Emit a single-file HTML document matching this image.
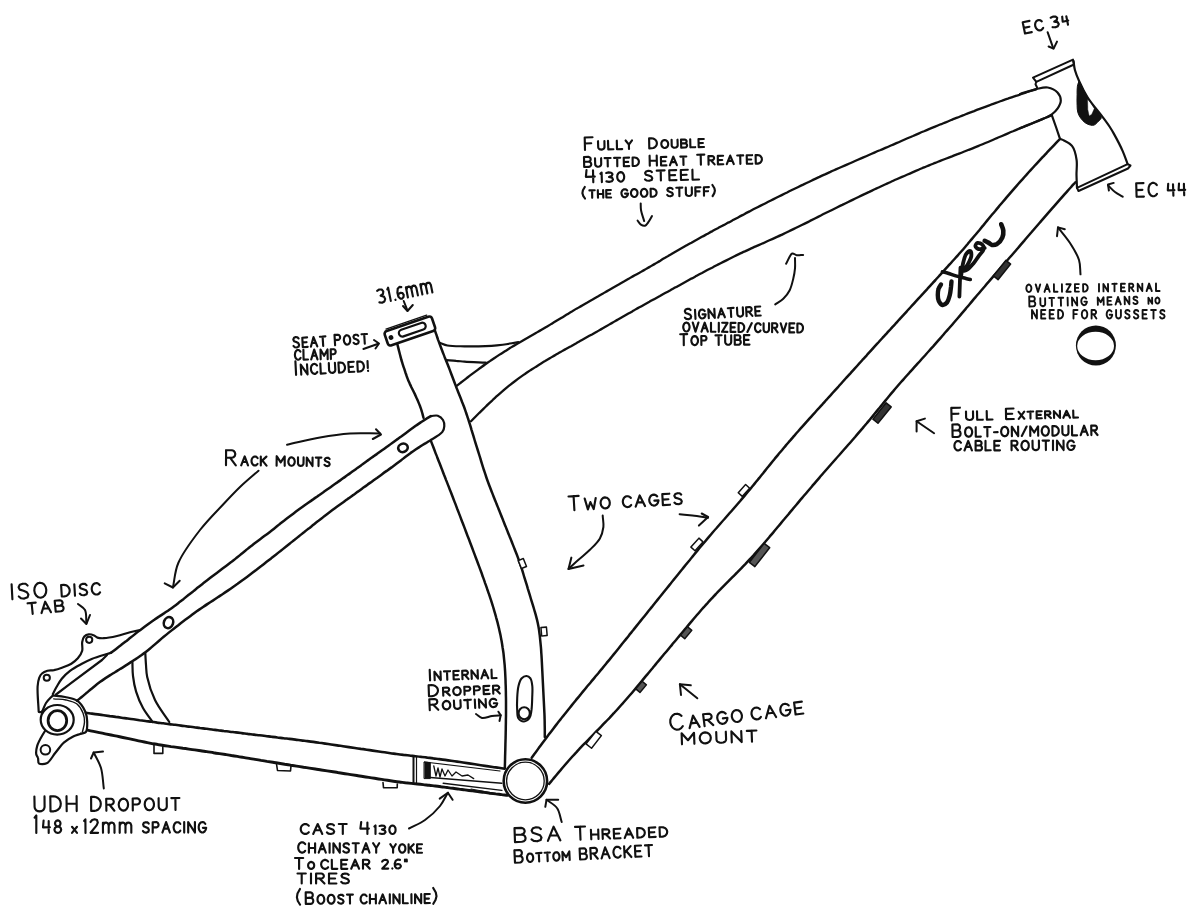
<!DOCTYPE html>
<html><head><meta charset="utf-8"><style>
html,body{margin:0;padding:0;background:#fff;width:1193px;height:920px;overflow:hidden}
svg{display:block}
</style></head><body>
<svg width="1193" height="920" viewBox="0 0 1193 920">
<rect width="1193" height="920" fill="#fff"/>
<g stroke="#111" stroke-linecap="round" stroke-linejoin="round" fill="none">
<path d="M1033,77.7 L1073,59.6 L1074,64.5 L1036.3,81.8 L1033,77.7" stroke-width="2.0" fill="none" />
<path d="M1036.3,81.8 L1035.5,84.2 L1037.1,87.5" stroke-width="2.0" fill="none" />
<path d="M1127.6,164.1 L1130.5,165.5 L1128,168.5 L1078.5,191 L1077,187.8 L1127.6,164.1" stroke-width="2.0" fill="none" />
<path d="M1077,188 C1076.8,183.7 1076.6,179.5 1076.5,175 C1076.4,170.2 1077.3,164.8 1076.6,160 C1075.9,155.2 1074.7,149.5 1072.2,146.2 C1070.2,143.4 1066.3,141.7 1064,140.5 C1062.5,139.7 1061.3,139.4 1060,138.9" stroke-width="2.2" fill="none" />
<path d="M1020,94 C1025.4,92.4 1031.3,90.2 1036.3,89.1 C1040.4,88.2 1044.1,86.9 1047.7,87.5 C1051.2,88.1 1055.3,90 1057.5,92.4 C1059.5,94.5 1060.8,97.8 1060.8,100.5 C1060.8,103.2 1059.1,106.3 1057.5,108.7 C1056,110.9 1054.4,112.6 1051.8,114.4 C1048.1,117 1041.6,119.4 1036.3,121.7 C1031,124 1025.4,126.1 1020,128.3" stroke-width="2.2" fill="none" />
<path d="M1051.8,115.2 L1056,127 L1060,138.9" stroke-width="2.2" fill="none" />
<path d="M1079.2,81.5 C1078.4,81.5 1077.8,84.4 1077.4,86.2 C1076.9,88.6 1077.2,91.7 1077.1,94.7 C1077,98 1076.9,102.1 1077.1,105.3 C1077.2,107.9 1077.2,110.2 1077.8,112.4 C1078.4,114.4 1079.4,116.3 1080.6,118 C1081.9,119.8 1083.7,121.8 1085.5,123 C1087.1,124.1 1089,124.8 1090.5,125.1 C1091.7,125.4 1092.9,125.5 1094,125.1 C1095.4,124.6 1097,122.9 1098.2,121.6 C1099.4,120.3 1101.3,119.2 1101.3,117.5 C1101.3,115 1096.9,111.3 1094.7,108.1 C1092.4,104.7 1089.8,100.9 1087.7,97.5 C1085.8,94.4 1084.2,91.2 1082.7,88.4 C1081.4,86 1080.1,81.5 1079.2,81.5 Z" stroke-width="1.0" fill="#111" />
<path d="M1087.6,99.3 L1087.8,109.5 L1089.2,116 L1091.8,114.2 L1094.3,108.6 L1090,101.5 Z" stroke-width="0.4" fill="#fff" />
<path d="M1073.5,61 C1074,64 1074.1,66.9 1074.9,70 C1075.9,73.6 1077.4,77.3 1079.2,81.3 C1081.4,86.3 1084.2,92.1 1087.7,97.5 C1091.6,103.6 1097.8,110.6 1101.8,115.9 C1104.8,119.9 1107.4,123.3 1109.5,126.5 C1111.2,129.1 1112.2,130.7 1113.8,133.6 C1116.3,138.1 1120.3,145.6 1122.7,151.1 C1124.7,155.7 1126,159.8 1127.6,164.1" stroke-width="2.2" fill="none" />
<path d="M1036.3,89.1 C1034.4,89.7 1032.5,90.4 1030.6,91 C1028.7,91.6 1026.8,92.2 1024.9,92.9 C1023,93.5 1021.1,94.1 1019.2,94.8 C1017.3,95.4 1015.4,96.1 1013.6,96.7 C1011.7,97.4 1009.8,98 1007.9,98.7 C1006,99.3 1004.1,100 1002.2,100.7 C1000.3,101.3 998.5,102 996.6,102.7 C994.7,103.4 992.8,104.1 990.9,104.7 C989.1,105.4 987.2,106.1 985.3,106.8 C983.4,107.5 981.6,108.2 979.7,108.9 C977.8,109.6 976,110.3 974.1,111.1 C972.2,111.8 970.4,112.5 968.5,113.2 C966.6,113.9 964.8,114.7 962.9,115.4 C961,116.1 959.2,116.9 957.3,117.6 C955.5,118.3 953.6,119.1 951.7,119.8 C949.9,120.6 948,121.3 946.2,122.1 C944.3,122.8 942.5,123.6 940.6,124.3 C938.8,125.1 936.9,125.9 935.1,126.6 C933.2,127.4 931.4,128.2 929.5,128.9 C927.7,129.7 925.8,130.5 924,131.3 C922.2,132 920.3,132.8 918.5,133.6 C916.6,134.4 914.8,135.2 913,136 C911.1,136.7 909.3,137.5 907.5,138.3 C905.6,139.1 903.8,139.9 901.9,140.7 C900.1,141.5 898.3,142.3 896.4,143.1 C894.6,143.9 892.8,144.7 890.9,145.5 C889.1,146.3 887.3,147.1 885.4,147.9 C883.6,148.7 881.8,149.5 879.9,150.3 C878.1,151 876.2,151.8 874.4,152.6 C872.6,153.4 870.7,154.2 868.9,155 C867.1,155.8 865.2,156.6 863.4,157.4 C861.5,158.2 859.7,159 857.9,159.8 C856,160.6 854.2,161.4 852.4,162.2 C850.5,163 848.7,163.8 846.9,164.6 C845,165.4 843.2,166.2 841.4,167 C839.5,167.8 837.7,168.6 835.9,169.4 C834.1,170.2 832.2,171 830.4,171.9 C828.6,172.7 826.8,173.5 825,174.4 C823.1,175.2 821.3,176 819.5,176.9 C817.7,177.7 815.9,178.6 814.1,179.4 C812.3,180.3 810.5,181.1 808.7,182 C806.9,182.8 805,183.7 803.2,184.6 C801.4,185.4 799.6,186.3 797.8,187.2 C796,188.1 794.2,188.9 792.4,189.8 C790.6,190.7 788.8,191.6 787.1,192.5 C785.3,193.3 783.5,194.2 781.7,195.1 C779.9,196 778.1,196.9 776.3,197.8 C774.5,198.7 772.7,199.6 770.9,200.5 C769.1,201.4 767.4,202.3 765.6,203.2 C763.8,204.1 762,205 760.2,205.9 C758.4,206.8 756.7,207.7 754.9,208.6 C753.1,209.5 751.3,210.5 749.6,211.4 C747.8,212.3 746,213.2 744.2,214.2 C742.5,215.1 740.7,216 738.9,217 C737.2,217.9 735.4,218.8 733.6,219.8 C731.9,220.7 730.1,221.7 728.3,222.6 C726.6,223.5 724.8,224.5 723,225.4 C721.3,226.4 719.5,227.3 717.8,228.3 C716,229.2 714.2,230.1 712.5,231.1 C710.7,232 709,233 707.2,234 C705.5,234.9 703.7,235.9 701.9,236.8 C700.2,237.8 698.4,238.8 696.7,239.7 C694.9,240.7 693.2,241.7 691.5,242.7 C689.7,243.6 688,244.6 686.2,245.6 C684.5,246.6 682.8,247.6 681,248.6 C679.3,249.6 677.6,250.6 675.8,251.6 C674.1,252.6 672.4,253.6 670.7,254.6 C668.9,255.6 667.2,256.6 665.5,257.6 C663.7,258.6 662,259.6 660.3,260.7 C658.6,261.7 656.8,262.7 655.1,263.7 C653.4,264.7 651.6,265.7 649.9,266.7 C648.2,267.7 646.4,268.7 644.7,269.7 C643,270.7 641.2,271.7 639.5,272.7 C637.8,273.6 636,274.6 634.3,275.6 C632.6,276.6 630.8,277.6 629.1,278.6 C627.3,279.6 625.6,280.6 623.9,281.6 C622.1,282.6 620.4,283.6 618.7,284.6 C616.9,285.6 615.2,286.5 613.4,287.5 C611.7,288.5 610,289.5 608.2,290.5 C606.5,291.5 604.7,292.5 603,293.5 C601.3,294.4 599.5,295.4 597.8,296.4 C596,297.4 594.3,298.4 592.6,299.4 C590.8,300.4 589.1,301.4 587.4,302.4 C585.6,303.4 583.9,304.4 582.2,305.4 C580.5,306.4 578.7,307.4 577,308.4 C575.3,309.5 573.6,310.5 571.9,311.5 C570.1,312.5 568.4,313.6 566.7,314.6 C565,315.6 563.3,316.7 561.6,317.7 C559.9,318.8 558.2,319.8 556.5,320.8 C554.8,321.9 553.1,322.9 551.4,323.9 C549.7,325 547.9,326 546.2,327 C544.5,328.1 542.8,329.1 541.1,330.1 C539.4,331.1 537.6,332.1 535.9,333.1 C534.2,334.1 532.5,335.1 530.7,336.1 C529,337.1 527.3,338.1 525.5,339.1 C523.8,340.1 522.1,341.1 520.4,342 C518.6,343 516.9,344 515.2,345.1 C513.5,346.1 511.7,347.1 510,348.1 C508.3,349.1 506.6,350.2 504.9,351.2 C503.2,352.3 501.5,353.4 499.9,354.4 C498.2,355.5 496.5,356.6 494.9,357.7 C493.2,358.8 491.5,359.9 489.9,361.1 C488.3,362.2 486.6,363.4 485,364.5 C483.4,365.7 481.8,366.8 480.1,368 C478.5,369.2 476.9,370.4 475.3,371.6 C473.7,372.8 472.1,374 470.5,375.2 C468.9,376.4 467.4,377.6 465.8,378.8 C464.2,380.1 462.6,381.3 461,382.5 C459.5,383.7 457.9,385 456.3,386.2" stroke-width="2.3" fill="none" />
<path d="M518.3,342.2 C511.2,343.3 504.9,344.7 497,345.4 C487.3,346.3 473.6,346.4 464.5,346.3 C457.9,346.2 451.9,346.4 447.4,345.5 C444.3,344.9 442.3,343.7 439.8,342.8" stroke-width="2.2" fill="none" />
<path d="M446.3,360.2 C449.6,360.4 453,360.5 456.1,360.8 C459,361 461.1,361.4 464.5,361.7 C470,362.1 478.6,362.3 485.7,362.6" stroke-width="2.2" fill="none" />
<path d="M1051.8,115.2 C1049.9,116 1048.1,116.7 1046.2,117.5 C1044.4,118.2 1042.5,119 1040.7,119.7 C1038.8,120.5 1037,121.3 1035.1,122 C1033.3,122.8 1031.4,123.6 1029.6,124.3 C1027.7,125.1 1025.9,125.8 1024.1,126.6 C1022.2,127.4 1020.4,128.2 1018.5,128.9 C1016.7,129.7 1014.8,130.5 1013,131.3 C1011.2,132 1009.3,132.8 1007.5,133.6 C1005.6,134.4 1003.8,135.2 1002,136 C1000.1,136.8 998.3,137.6 996.4,138.3 C994.6,139.1 992.8,139.9 990.9,140.7 C989.1,141.5 987.2,142.3 985.4,143 C983.6,143.8 981.7,144.6 979.9,145.3 C978,146.1 976.2,146.9 974.3,147.6 C972.5,148.4 970.6,149.1 968.7,149.8 C966.9,150.6 965,151.3 963.2,152 C961.3,152.8 959.4,153.5 957.6,154.2 C955.7,154.9 953.8,155.6 952,156.4 C950.1,157.1 948.2,157.8 946.4,158.5 C944.5,159.3 942.7,160 940.8,160.7 C938.9,161.4 937.1,162.2 935.2,162.9 C933.4,163.6 931.5,164.4 929.6,165.1 C927.8,165.9 925.9,166.6 924.1,167.4 C922.2,168.2 920.4,168.9 918.6,169.7 C916.7,170.5 914.9,171.3 913,172.1 C911.2,172.9 909.4,173.7 907.5,174.5 C905.7,175.3 903.9,176.1 902,176.9 C900.2,177.7 898.4,178.5 896.6,179.3 C894.7,180.1 892.9,181 891.1,181.8 C889.3,182.6 887.5,183.5 885.6,184.3 C883.8,185.1 882,186 880.2,186.8 C878.4,187.6 876.6,188.5 874.7,189.3 C872.9,190.2 871.1,191 869.3,191.9 C867.5,192.7 865.7,193.6 863.9,194.4 C862.1,195.3 860.3,196.2 858.5,197 C856.7,197.9 854.9,198.8 853.1,199.6 C851.3,200.5 849.5,201.4 847.7,202.2 C845.9,203.1 844.1,204 842.3,204.9 C840.5,205.7 838.7,206.6 836.9,207.5 C835.1,208.4 833.3,209.3 831.5,210.2 C829.7,211.1 827.9,211.9 826.1,212.8 C824.3,213.7 822.5,214.6 820.8,215.5 C819,216.4 817.2,217.3 815.4,218.2 C813.6,219.1 811.8,220 810,220.9 C808.3,221.8 806.5,222.7 804.7,223.6 C802.9,224.5 801.1,225.4 799.3,226.3 C797.5,227.2 795.7,228.1 793.9,228.9 C792.1,229.8 790.3,230.7 788.5,231.5 C786.7,232.4 784.9,233.3 783.1,234.1 C781.3,234.9 779.5,235.8 777.6,236.6 C775.8,237.4 774,238.3 772.2,239.1 C770.4,239.9 768.5,240.7 766.7,241.5 C764.9,242.4 763.1,243.2 761.2,244 C759.4,244.8 757.6,245.6 755.8,246.4 C753.9,247.2 752.1,248.1 750.3,248.9 C748.5,249.7 746.7,250.5 744.9,251.4 C743,252.2 741.2,253.1 739.4,253.9 C737.6,254.8 735.8,255.7 734,256.5 C732.2,257.4 730.4,258.3 728.6,259.2 C726.9,260.1 725.1,261 723.3,261.9 C721.5,262.8 719.7,263.7 717.9,264.6 C716.2,265.5 714.4,266.4 712.6,267.4 C710.8,268.3 709.1,269.2 707.3,270.1 C705.5,271.1 703.8,272 702,273 C700.2,273.9 698.5,274.8 696.7,275.8 C695,276.7 693.2,277.7 691.4,278.6 C689.7,279.6 687.9,280.6 686.2,281.5 C684.4,282.5 682.7,283.4 680.9,284.4 C679.2,285.4 677.4,286.3 675.6,287.3 C673.9,288.3 672.1,289.2 670.4,290.2 C668.6,291.2 666.9,292.1 665.1,293.1 C663.4,294 661.6,295 659.9,296 C658.1,297 656.4,297.9 654.6,298.9 C652.9,299.9 651.1,300.8 649.4,301.8 C647.6,302.8 645.9,303.7 644.1,304.7 C642.4,305.7 640.6,306.7 638.9,307.6 C637.2,308.6 635.4,309.6 633.7,310.6 C631.9,311.6 630.2,312.6 628.4,313.5 C626.7,314.5 625,315.5 623.2,316.5 C621.5,317.5 619.8,318.5 618,319.5 C616.3,320.5 614.5,321.5 612.8,322.5 C611.1,323.5 609.3,324.5 607.6,325.5 C605.9,326.4 604.1,327.4 602.4,328.4 C600.7,329.4 598.9,330.4 597.2,331.4 C595.4,332.4 593.7,333.4 592,334.4 C590.2,335.4 588.5,336.3 586.7,337.3 C585,338.3 583.3,339.3 581.5,340.3 C579.8,341.3 578,342.2 576.3,343.2 C574.5,344.2 572.8,345.2 571.1,346.2 C569.3,347.1 567.6,348.1 565.8,349.1 C564.1,350.1 562.3,351.1 560.6,352.1 C558.9,353.1 557.1,354 555.4,355 C553.7,356 551.9,357 550.2,358 C548.5,359.1 546.8,360.1 545.1,361.1 C543.3,362.1 541.6,363.2 539.9,364.2 C538.2,365.3 536.5,366.3 534.9,367.4 C533.2,368.5 531.5,369.5 529.8,370.6 C528.2,371.7 526.5,372.9 524.9,374 C523.2,375.1 521.6,376.3 520,377.4 C518.4,378.6 516.8,379.8 515.2,381 C513.6,382.2 512,383.4 510.5,384.6 C508.9,385.9 507.3,387.1 505.8,388.4 C504.3,389.7 502.8,391 501.2,392.3 C499.7,393.6 498.2,394.9 496.8,396.2 C495.3,397.6 493.8,398.9 492.4,400.3 C490.9,401.6 489.4,403 488,404.4 C486.6,405.8 485.1,407.2 483.7,408.6 C482.3,410 480.9,411.4 479.4,412.8 C478,414.2 476.6,415.6 475.2,417 C473.8,418.5 472.4,419.9 471,421.3" stroke-width="2.3" fill="none" />
<path d="M1059.1,139.8 C1057.7,141.2 1056.3,142.7 1055,144.1 C1053.6,145.6 1052.2,147 1050.8,148.5 C1049.4,149.9 1048.1,151.4 1046.7,152.8 C1045.3,154.3 1044,155.8 1042.6,157.2 C1041.2,158.7 1039.9,160.1 1038.5,161.6 C1037.1,163.1 1035.8,164.5 1034.4,166 C1033.1,167.5 1031.7,169 1030.4,170.4 C1029,171.9 1027.7,173.4 1026.4,174.9 C1025,176.4 1023.7,177.9 1022.4,179.4 C1021,180.9 1019.7,182.3 1018.4,183.8 C1017.1,185.3 1015.7,186.9 1014.4,188.4 C1013.1,189.9 1011.8,191.4 1010.5,192.9 C1009.2,194.4 1007.9,195.9 1006.6,197.4 C1005.3,199 1004,200.5 1002.7,202 C1001.4,203.5 1000.1,205.1 998.8,206.6 C997.5,208.1 996.2,209.7 995,211.2 C993.7,212.7 992.4,214.3 991.1,215.8 C989.9,217.3 988.6,218.9 987.3,220.4 C986,222 984.8,223.5 983.5,225.1 C982.2,226.6 981,228.1 979.7,229.7 C978.4,231.2 977.1,232.8 975.9,234.3 C974.6,235.8 973.3,237.3 972,238.9 C970.6,240.6 968.9,242.5 967.5,244.2 C966.1,245.8 964.9,247.3 963.6,248.8 C962.2,250.3 960.9,251.8 959.6,253.3 C958.3,254.8 956.9,256.3 955.6,257.8 C954.3,259.3 952.9,260.7 951.6,262.2 C950.3,263.7 948.9,265.2 947.6,266.7 C946.2,268.2 944.9,269.6 943.6,271.1 C942.2,272.6 940.9,274.1 939.5,275.5 C938.2,277 936.8,278.5 935.5,280 C934.1,281.4 932.8,282.9 931.4,284.4 C930.1,285.9 928.7,287.3 927.4,288.8 C926,290.3 924.7,291.8 923.3,293.3 C922,294.7 920.6,296.2 919.3,297.7 C917.9,299.2 916.6,300.6 915.2,302.1 C913.9,303.6 912.5,305.1 911.2,306.5 C909.8,308 908.5,309.5 907.1,311 C905.8,312.4 904.4,313.9 903.1,315.4 C901.7,316.9 900.4,318.3 899,319.8 C897.7,321.3 896.3,322.8 895,324.3 C893.6,325.7 892.3,327.2 890.9,328.7 C889.6,330.2 888.2,331.6 886.9,333.1 C885.5,334.6 884.2,336.1 882.8,337.5 C881.5,339 880.1,340.5 878.8,342 C877.4,343.5 876.1,344.9 874.7,346.4 C873.4,347.9 872.1,349.4 870.7,350.9 C869.4,352.3 868,353.8 866.7,355.3 C865.3,356.8 864,358.3 862.6,359.7 C861.3,361.2 860,362.7 858.6,364.2 C857.3,365.7 855.9,367.2 854.6,368.6 C853.3,370.1 851.9,371.6 850.6,373.1 C849.2,374.6 847.9,376.1 846.5,377.5 C845.2,379 843.9,380.5 842.5,382 C841.2,383.5 839.8,385 838.5,386.5 C837.2,387.9 835.8,389.4 834.5,390.9 C833.1,392.4 831.8,393.9 830.5,395.4 C829.1,396.8 827.8,398.3 826.4,399.8 C825.1,401.3 823.7,402.8 822.4,404.3 C821.1,405.7 819.7,407.2 818.4,408.7 C817,410.2 815.7,411.7 814.4,413.2 C813,414.6 811.7,416.1 810.3,417.6 C809,419.1 807.7,420.6 806.3,422.1 C805,423.6 803.7,425.1 802.3,426.6 C801,428 799.7,429.5 798.4,431 C797,432.5 795.7,434 794.4,435.6 C793.1,437.1 791.8,438.5 790.5,440.1 C789,441.8 787.4,443.7 785.9,445.4 C784.6,447 783.3,448.5 782.1,450 C780.8,451.5 779.5,453.1 778.2,454.6 C776.9,456.1 775.7,457.7 774.4,459.2 C773.1,460.8 771.9,462.3 770.6,463.9 C769.3,465.4 768.1,467 766.8,468.5 C765.6,470.1 764.3,471.6 763.1,473.2 C761.8,474.7 760.5,476.3 759.3,477.9 C758,479.4 756.8,481 755.5,482.5 C754.3,484.1 753,485.6 751.7,487.2 C750.5,488.7 749.2,490.3 747.9,491.8 C746.7,493.3 745.4,494.9 744.1,496.4 C742.8,497.9 741.5,499.4 740.2,501 C738.9,502.5 737.6,504 736.3,505.5 C735,507 733.7,508.5 732.4,510 C731.1,511.5 729.7,513 728.4,514.5 C727.1,516 725.8,517.5 724.5,519 C723.1,520.5 721.8,522 720.5,523.5 C719.2,525 717.9,526.5 716.6,528 C715.2,529.5 713.9,531 712.6,532.5 C711.3,534.1 710,535.6 708.7,537.1 C707.4,538.6 706.1,540.2 704.9,541.7 C703.6,543.2 702.3,544.7 701,546.3 C699.7,547.8 698.4,549.4 697.2,550.9 C695.9,552.4 694.6,554 693.4,555.5 C692.1,557.1 690.8,558.6 689.6,560.2 C688.3,561.7 687,563.3 685.8,564.8 C684.5,566.4 683.3,567.9 682,569.5 C680.7,571 679.5,572.6 678.2,574.2 C677,575.7 675.7,577.3 674.5,578.8 C673.2,580.4 671.9,581.9 670.7,583.5 C669.4,585.1 668.2,586.6 666.9,588.2 C665.7,589.7 664.4,591.3 663.2,592.8 C661.9,594.4 660.7,596 659.4,597.5 C658.1,599.1 656.9,600.6 655.6,602.2 C654.4,603.7 653.1,605.3 651.9,606.9 C650.6,608.4 649.4,610 648.1,611.5 C646.9,613.1 645.6,614.7 644.4,616.2 C643.1,617.8 641.9,619.3 640.6,620.9 C639.3,622.5 638.1,624 636.8,625.6 C635.6,627.1 634.3,628.7 633.1,630.3 C631.8,631.8 630.6,633.4 629.3,634.9 C628.1,636.5 626.8,638.1 625.6,639.6 C624.3,641.2 623.1,642.8 621.8,644.3 C620.6,645.9 619.4,647.4 618.1,649 C616.7,650.7 615.1,652.7 613.7,654.4 C612.4,656 611.2,657.5 609.9,659.1 C608.6,660.6 607.4,662.2 606.1,663.7 C604.8,665.3 603.6,666.8 602.3,668.4 C601,669.9 599.7,671.4 598.5,673 C597.2,674.5 595.9,676.1 594.6,677.6 C593.3,679.1 592.1,680.7 590.8,682.2 C589.5,683.7 588.2,685.3 586.9,686.8 C585.7,688.4 584.4,689.9 583.1,691.4 C581.8,693 580.6,694.5 579.3,696.1 C578,697.6 576.8,699.2 575.5,700.7 C574.2,702.3 573,703.8 571.7,705.4 C570.5,706.9 569.2,708.5 568,710 C566.7,711.6 565.5,713.2 564.2,714.7 C563,716.3 561.7,717.8 560.5,719.4 C559.2,721 558,722.6 556.8,724.1 C555.5,725.7 554.3,727.3 553.1,728.9 C551.9,730.5 550.7,732.1 549.5,733.6 C548.3,735.2 547.1,736.8 545.9,738.4 C544.7,740 543.5,741.6 542.3,743.2 C541.1,744.9 539.9,746.5 538.7,748.1 C537.6,749.7 536.4,751.3 535.2,752.9 C534,754.6 532.9,756.2 531.7,757.8" stroke-width="2.5" fill="none" />
<path d="M1075.4,182.2 C1074.1,183.7 1072.7,185.2 1071.4,186.7 C1070.1,188.1 1068.7,189.6 1067.4,191.1 C1066.1,192.6 1064.7,194.1 1063.4,195.6 C1062.1,197.1 1060.8,198.6 1059.4,200.1 C1058.1,201.6 1056.8,203.1 1055.5,204.6 C1054.2,206.1 1052.9,207.6 1051.5,209.1 C1050.2,210.6 1048.9,212.1 1047.6,213.6 C1046.3,215.1 1045,216.6 1043.7,218.1 C1042.4,219.7 1041,221.2 1039.7,222.7 C1038.4,224.2 1037.1,225.7 1035.8,227.2 C1034.5,228.7 1033.2,230.2 1031.9,231.8 C1030.6,233.3 1029.3,234.8 1028,236.3 C1026.7,237.8 1025.4,239.3 1024.1,240.9 C1022.8,242.4 1021.5,243.9 1020.2,245.4 C1018.9,246.9 1017.6,248.5 1016.3,250 C1015,251.5 1013.7,253 1012.4,254.5 C1011.1,256 1009.7,257.5 1008.4,259 C1007.1,260.5 1005.8,262 1004.5,263.5 C1003.2,265 1001.9,266.5 1000.5,268 C999.2,269.6 997.9,271.1 996.6,272.6 C995.3,274.1 994,275.6 992.7,277.1 C991.4,278.6 990.1,280.1 988.8,281.6 C987.4,283.1 986.1,284.6 984.9,286.2 C983.6,287.7 982.3,289.2 981,290.7 C979.7,292.3 978.4,293.8 977.1,295.3 C975.8,296.8 974.5,298.4 973.2,299.9 C972,301.4 970.7,303 969.4,304.5 C968.1,306 966.8,307.6 965.5,309.1 C964.2,310.6 962.9,312.1 961.6,313.6 C960.3,315.2 959,316.7 957.7,318.2 C956.4,319.7 955.1,321.2 953.8,322.7 C952.5,324.3 951.2,325.8 949.9,327.3 C948.6,328.8 947.3,330.2 945.9,331.8 C944.4,333.5 942.8,335.4 941.3,337.1 C939.9,338.6 938.7,340.1 937.3,341.6 C936,343.1 934.7,344.6 933.4,346.1 C932,347.6 930.7,349.1 929.4,350.5 C928,352 926.7,353.5 925.4,355 C924,356.5 922.7,358 921.3,359.5 C920,361 918.7,362.4 917.3,363.9 C916,365.4 914.6,366.9 913.3,368.4 C912,369.9 910.6,371.3 909.3,372.8 C907.9,374.3 906.6,375.8 905.3,377.3 C904,378.8 902.6,380.3 901.3,381.8 C900,383.3 898.7,384.8 897.4,386.3 C896.1,387.8 894.8,389.3 893.5,390.9 C892.2,392.4 890.9,393.9 889.6,395.5 C888.4,397 887.1,398.5 885.8,400.1 C884.6,401.6 883.3,403.2 882,404.7 C880.8,406.3 879.5,407.8 878.2,409.4 C877,410.9 875.7,412.5 874.4,414 C873.2,415.6 871.9,417.1 870.6,418.7 C869.4,420.2 868.1,421.7 866.8,423.3 C865.5,424.8 864.2,426.3 862.9,427.9 C861.6,429.4 860.3,430.9 859,432.4 C857.7,433.9 856.4,435.4 855.1,437 C853.8,438.5 852.5,440 851.2,441.5 C849.9,443 848.5,444.5 847.2,446 C845.9,447.5 844.6,449 843.2,450.5 C841.9,452 840.6,453.5 839.3,455 C837.9,456.5 836.6,458 835.3,459.5 C834,461 832.7,462.5 831.3,464 C830,465.5 828.7,467 827.4,468.5 C826.1,470 824.8,471.5 823.4,473 C822.1,474.5 820.8,476.1 819.5,477.6 C818.2,479.1 816.9,480.6 815.6,482.1 C814.3,483.6 813,485.2 811.7,486.7 C810.4,488.2 809.1,489.7 807.8,491.2 C806.5,492.8 805.2,494.3 803.9,495.8 C802.6,497.3 801.3,498.9 800,500.4 C798.8,501.9 797.5,503.5 796.2,505 C794.9,506.5 793.6,508 792.3,509.6 C791,511.1 789.7,512.6 788.5,514.2 C787.2,515.7 785.9,517.2 784.6,518.8 C783.3,520.3 782,521.9 780.8,523.4 C779.5,524.9 778.2,526.5 776.9,528 C775.6,529.5 774.3,531.1 773.1,532.6 C771.8,534.1 770.5,535.7 769.2,537.2 C767.9,538.7 766.6,540.2 765.3,541.8 C764,543.3 762.7,544.8 761.4,546.3 C760.1,547.8 758.8,549.3 757.4,550.8 C756.1,552.3 754.8,553.8 753.5,555.3 C752.1,556.8 750.8,558.2 749.4,559.7 C748,561.2 746.7,562.6 745.3,564.1 C743.9,565.5 742.5,566.9 741.2,568.4 C739.8,569.8 738.4,571.2 737,572.7 C735.6,574.1 734.1,575.5 732.7,576.9 C731.3,578.3 729.9,579.7 728.5,581.2 C727.1,582.6 725.7,584 724.3,585.4 C722.9,586.8 721.5,588.2 720.1,589.7 C718.7,591.1 717.3,592.5 715.9,594 C714.5,595.4 713.2,596.9 711.8,598.4 C710.5,599.8 709.1,601.3 707.8,602.8 C706.4,604.2 705.1,605.7 703.8,607.2 C702.4,608.7 701.1,610.2 699.8,611.7 C698.5,613.2 697.2,614.8 695.9,616.3 C694.6,617.8 693.3,619.3 692,620.9 C690.7,622.4 689.4,623.9 688.2,625.4 C686.9,627 685.6,628.4 684.3,630 C682.9,631.8 681.3,633.7 679.8,635.4 C678.5,637 677.2,638.5 676,640 C674.7,641.5 673.4,643.1 672.1,644.6 C670.8,646.2 669.5,647.7 668.3,649.2 C667,650.8 665.7,652.3 664.4,653.8 C663.1,655.4 661.9,656.9 660.6,658.4 C659.3,660 658,661.5 656.7,663 C655.5,664.6 654.2,666.1 652.9,667.7 C651.6,669.2 650.3,670.7 649.1,672.3 C647.8,673.8 646.5,675.4 645.2,676.9 C644,678.4 642.7,680 641.4,681.5 C640.1,683.1 638.9,684.6 637.6,686.1 C636.3,687.7 635,689.2 633.7,690.7 C632.4,692.3 631.1,693.8 629.8,695.3 C628.5,696.8 627.2,698.3 625.9,699.8 C624.6,701.3 623.3,702.8 621.9,704.3 C620.6,705.8 619.3,707.3 617.9,708.8 C616.6,710.3 615.2,711.7 613.9,713.2 C612.5,714.7 611.1,716.1 609.8,717.6 C608.4,719 607,720.5 605.6,721.9 C604.2,723.3 602.8,724.8 601.5,726.2 C600.1,727.6 598.7,729.1 597.3,730.5 C595.9,731.9 594.5,733.4 593.1,734.8 C591.7,736.2 590.3,737.6 588.9,739.1 C587.5,740.5 586.1,742 584.7,743.4 C583.3,744.8 581.9,746.3 580.6,747.7 C579.2,749.2 577.8,750.6 576.5,752.1 C575.1,753.6 573.8,755 572.4,756.5 C571.1,758 569.8,759.5 568.4,761 C567.1,762.5 565.8,764 564.5,765.5 C563.2,767 561.9,768.5 560.6,770.1 C559.3,771.6 558,773.1 556.7,774.7 C555.5,776.2 554.2,777.7 552.9,779.3 C551.6,780.8 550.4,782.4 549.1,783.9" stroke-width="2.5" fill="none" />
<path d="M397.4,344.5 C397.7,345.8 398.1,347.1 398.4,348.4 C398.7,349.7 399.1,351 399.4,352.3 C399.7,353.5 400,354.8 400.4,356.1 C400.7,357.4 401.1,358.6 401.4,360 C401.9,361.5 402.4,363.3 402.9,364.8 C403.3,366.1 403.7,367.3 404.2,368.6 C404.6,369.8 405,371.1 405.4,372.4 C405.9,373.6 406.3,374.9 406.7,376.2 C407.2,377.4 407.6,378.7 408.1,379.9 C408.6,381.1 409.2,382.4 409.7,383.6 C410.3,384.8 410.9,386 411.4,387.2 C412,388.4 412.6,389.6 413.2,390.8 C413.8,392 414.4,393.2 415,394.4 C415.5,395.6 416.1,396.7 416.6,398 C417.3,399.4 418,401.1 418.6,402.6 C419.1,403.9 419.6,405.1 420.1,406.3 C420.5,407.6 421,408.8 421.4,410.1 C421.8,411.4 422.1,412.6 422.5,413.9 C422.8,415.2 423.2,416.5 423.5,417.8" stroke-width="2.5" fill="none" />
<path d="M430.9,440.9 C431.6,442.8 432.3,444.6 433.1,446.5 C433.8,448.4 434.5,450.2 435.2,452.1 C435.9,454 436.7,455.8 437.4,457.7 C438.1,459.6 438.8,461.4 439.6,463.3 C440.3,465.2 441,467 441.8,468.9 C442.5,470.8 443.2,472.6 443.9,474.5 C444.7,476.4 445.4,478.1 446.1,480.1 C446.9,482.2 447.9,484.5 448.7,486.6 C449.4,488.6 450.1,490.3 450.9,492.2 C451.6,494.1 452.3,495.9 453,497.8 C453.7,499.7 454.5,501.6 455.2,503.4 C455.9,505.3 456.6,507.2 457.3,509 C458.1,510.9 458.8,512.8 459.5,514.6 C460.2,516.5 460.9,518.4 461.6,520.2 C462.3,522.1 463.1,524 463.8,525.9 C464.5,527.7 465.2,529.6 465.9,531.5 C466.6,533.3 467.3,535.2 468,537.1 C468.8,539 469.5,540.8 470.2,542.7 C470.9,544.6 471.6,546.4 472.3,548.3 C473,550.2 473.7,552 474.4,553.9 C475.2,556 476.1,558.4 476.9,560.5 C477.6,562.4 478.3,564.3 479,566.1 C479.7,568 480.4,569.9 481.1,571.8 C481.8,573.6 482.4,575.5 483.1,577.4 C483.8,579.3 484.5,581.2 485.1,583.1 C485.8,584.9 486.5,586.8 487.1,588.7 C487.8,590.6 488.4,592.5 489.1,594.4 C489.7,596.3 490.3,598.2 491,600.1 C491.6,602 492.2,603.9 492.8,605.8 C493.4,607.7 493.9,609.6 494.5,611.6 C495.1,613.5 495.6,615.4 496.1,617.3 C496.7,619.2 497.2,621.2 497.7,623.1 C498.2,625 498.6,627 499.1,628.9 C499.5,630.9 500,632.8 500.4,634.8 C500.8,636.7 501.1,638.6 501.5,640.6 C501.9,642.8 502.3,645.3 502.6,647.5 C503,649.5 503.2,651.4 503.5,653.4 C503.7,655.4 503.9,657.4 504.1,659.3 C504.3,661.3 504.5,663.3 504.7,665.3 C504.8,667.3 505,669.3 505.1,671.3 C505.2,673.3 505.3,675.3 505.4,677.3 C505.5,679.3 505.6,681.3 505.6,683.2 C505.7,685.2 505.8,687.2 505.8,689.2 C505.9,691.2 505.9,693.2 505.9,695.2 C506,697.2 506,699.2 506,701.2 C506,703.2 506,705.3 506,707.3 C506,709.3 506,711.3 506,713.3 C506,715.3 506,717.2 505.9,719.3 C505.9,721.5 505.9,724 505.8,726.3 C505.8,728.3 505.8,730.3 505.7,732.3 C505.7,734.3 505.6,736.3 505.6,738.3 C505.5,740.3 505.5,742.3 505.4,744.3 C505.4,746.3 505.3,748.3 505.3,750.3 C505.2,752.3 505.2,754.3 505.1,756.3 C505.1,758.3 505,760.3 505,762.3 C504.9,764.3 504.9,766.3 504.8,768.3" stroke-width="2.5" fill="none" />
<path d="M434.3,328.7 C435,330.6 435.6,332.5 436.3,334.4 C436.9,336.3 437.6,338.2 438.2,340.1 C438.9,341.9 439.6,343.8 440.3,345.7 C441,347.6 441.7,349.4 442.4,351.3 C443.1,353.2 443.9,355 444.6,356.9 C445.4,358.8 446.1,360.6 446.9,362.5 C447.6,364.3 448.3,366.2 449.1,368.1 C449.8,369.9 450.5,371.8 451.2,373.7 C451.9,375.6 452.6,377.4 453.3,379.3 C454,381.2 454.7,383.1 455.4,384.9 C456.1,386.8 456.8,388.7 457.6,390.5 C458.3,392.4 459.1,394.3 459.8,396.1 C460.6,398 461.3,399.8 462,401.7 C462.8,403.6 463.5,405.4 464.2,407.3 C464.9,409.2 465.5,411.1 466.2,413 C466.8,414.9 467.5,416.8 468.1,418.7 C468.7,420.6 469.3,422.5 469.9,424.4 C470.5,426.3 471.1,428.2 471.6,430.1 C472.2,432.1 472.8,434 473.4,435.9 C474,437.8 474.5,439.7 475.1,441.6 C475.7,443.6 476.3,445.5 476.9,447.4 C477.5,449.3 478.1,451.2 478.7,453.1 C479.3,455 479.9,457 480.5,458.9 C481,460.8 481.6,462.7 482.2,464.6 C482.8,466.5 483.4,468.4 484,470.3 C484.7,472.2 485.3,474.2 485.9,476 C486.5,477.9 487.2,479.8 487.9,481.7 C488.6,483.6 489.3,485.5 490,487.3 C490.7,489.2 491.4,491.1 492.2,492.9 C492.9,494.8 493.7,496.7 494.4,498.5 C495.1,500.4 495.9,502.2 496.6,504.1 C497.4,506 498.1,507.8 498.9,509.7 C499.6,511.5 500.4,513.4 501.1,515.3 C501.8,517.1 502.6,519 503.3,520.8 C504.1,522.7 504.8,524.6 505.6,526.4 C506.3,528.3 507.1,530.1 507.8,532 C508.5,533.9 509.3,535.7 510,537.6 C510.8,539.4 511.5,541.3 512.3,543.2 C513,545 513.7,546.9 514.5,548.7 C515.2,550.6 516,552.5 516.7,554.3 C517.4,556.2 518.1,558.1 518.8,560 C519.4,561.8 520.1,563.7 520.7,565.6 C521.4,567.5 522,569.4 522.6,571.4 C523.2,573.3 523.7,575.2 524.3,577.1 C524.9,579 525.5,580.9 526.1,582.8 C526.7,584.8 527.3,586.7 527.8,588.6 C528.4,590.5 529,592.4 529.6,594.3 C530.2,596.3 530.7,598.2 531.3,600.1 C531.9,602 532.5,603.9 533.1,605.8 C533.7,607.8 534.2,609.7 534.8,611.6 C535.4,613.5 535.9,615.4 536.4,617.4 C536.9,619.3 537.4,621.2 537.8,623.2 C538.2,625.1 538.6,627.1 538.9,629.1 C539.2,631.1 539.4,633 539.7,635 C539.9,637 540.1,639 540.3,641 C540.5,643 540.7,645 540.9,647 C541.1,649 541.2,651 541.3,653 C541.5,655 541.6,657 541.7,659 C541.8,661 541.9,663 542,665 C542.1,667 542.2,669 542.3,671 C542.4,673 542.5,675 542.6,677 C542.7,679 542.8,681 542.9,683 C543,685 543.1,687 543.2,689 C543.3,691 543.4,693 543.5,695 C543.6,697 543.7,699 543.8,701 C543.9,703 544,705 544.1,707 C544.2,709 544.3,711 544.4,713 C544.5,715 544.6,717 544.6,719 C544.7,721 544.7,723 544.7,725 C544.8,727 544.8,729 544.8,731 C544.8,733 544.8,735 544.8,737" stroke-width="2.5" fill="none" />
<g transform="translate(409.9,331) rotate(-19)"><rect x="-25" y="-7.6" width="50" height="15.2" rx="3" stroke-width="2.6" fill="#fff"/><rect x="-11.3" y="-4" width="28" height="7" rx="3.5" stroke-width="2.2" fill="none"/><circle cx="-20" cy="0" r="2.4" fill="#111" stroke="none"/><path d="M-22,-9.6 L21,-9.6" stroke-width="1.3"/></g>
<path d="M430.9,416.1 C429.2,417.1 427.4,418.1 425.7,419.2 C424,420.2 422.4,421.3 420.7,422.4 C419,423.5 417.4,424.7 415.7,425.8 C414.1,427 412.5,428.2 410.9,429.3 C409.3,430.5 407.7,431.7 406,432.9 C404.4,434.1 402.8,435.3 401.2,436.5 C399.6,437.6 398,438.8 396.3,440 C394.7,441.2 393.1,442.4 391.5,443.5 C389.8,444.7 388.2,445.9 386.6,447 C385,448.2 383.3,449.4 381.7,450.5 C380.1,451.7 378.4,452.9 376.8,454.1 C375.2,455.2 373.6,456.4 371.9,457.6 C370.3,458.7 368.7,459.9 367,461.1 C365.4,462.2 363.8,463.4 362.2,464.6 C360.5,465.8 358.9,466.9 357.3,468.1 C355.6,469.3 354,470.4 352.4,471.6 C350.8,472.8 349.1,473.9 347.5,475.1 C345.9,476.3 344.2,477.4 342.6,478.6 C341,479.8 339.3,480.9 337.7,482.1 C336.1,483.2 334.4,484.4 332.8,485.5 C331.2,486.7 329.5,487.9 327.9,489 C326.2,490.2 324.6,491.3 323,492.5 C321.3,493.6 319.7,494.8 318,495.9 C316.4,497.1 314.7,498.2 313.1,499.4 C311.5,500.5 309.8,501.7 308.2,502.8 C306.6,504 304.9,505.1 303.3,506.3 C301.7,507.5 300,508.6 298.4,509.8 C296.8,511 295.2,512.2 293.6,513.4 C292,514.6 290.4,515.8 288.8,517 C287.2,518.2 285.6,519.4 284,520.7 C282.4,521.9 280.9,523.2 279.3,524.4 C277.7,525.7 276.2,526.9 274.6,528.2 C273.1,529.4 271.6,530.7 269.9,531.9 C268.1,533.3 266.1,534.8 264.3,536.1 C262.6,537.4 261.1,538.5 259.5,539.7 C257.9,540.9 256.3,542.1 254.7,543.3 C253.1,544.5 251.5,545.8 249.9,547 C248.4,548.3 246.8,549.5 245.3,550.8 C243.7,552.1 242.2,553.4 240.6,554.6 C239.1,555.9 237.5,557.1 235.9,558.4 C234.4,559.6 232.8,560.8 231.2,562.1 C229.6,563.3 228,564.5 226.4,565.7 C224.8,566.9 223.2,568.1 221.6,569.3 C220,570.5 218.4,571.7 216.8,572.9 C215.2,574.1 213.6,575.3 212,576.5 C210.4,577.8 208.8,579 207.2,580.2 C205.6,581.4 204.1,582.7 202.5,583.9 C200.9,585.1 199.3,586.4 197.8,587.6 C196.2,588.9 194.6,590.1 193.1,591.4 C191.5,592.6 189.9,593.9 188.4,595.1 C186.8,596.4 185.2,597.7 183.7,598.9 C182.1,600.1 180.5,601.4 178.9,602.6 C177.4,603.8 175.8,605.1 174.2,606.2 C172.6,607.4 170.9,608.6 169.3,609.7 C167.6,610.9 165.9,612 164.3,613.1 C162.6,614.2 160.9,615.3 159.3,616.4 C157.6,617.5 155.9,618.6 154.3,619.8 C152.7,620.9 151,622.1 149.4,623.2 C147.8,624.4 146.2,625.6 144.6,626.8 C143,628 141.4,629.2 139.8,630.4 C138.2,631.7 136.6,632.9 135,634.1 C133.4,635.4 131.9,636.6 130.3,637.8 C128.7,639.1 127.1,640.3 125.6,641.6 C124,642.8 122.4,644 120.8,645.3 C119.2,646.5 117.6,647.7 116.1,648.9 C114.5,650.2 112.9,651.4 111.3,652.6" stroke-width="2.5" fill="none" />
<path d="M111.3,652.6 C104.8,654.7 97.2,656.7 91.7,658.9 C87.5,660.6 84.5,662.3 80.9,664.3 C77.2,666.3 73.2,668.4 70,670.9 C67,673.2 64.3,675.7 62,678.5 C59.8,681.1 58.1,684.3 56.5,687 C55.1,689.4 54,691.7 52.8,694.1" stroke-width="2.2" fill="none" />
<path d="M430.9,416.1 C433.2,416 435.8,415 437.8,415.7 C439.8,416.4 441.9,418.2 443,420 C444,421.7 444.4,424.1 444.3,426.1 C444.2,428.2 443.4,430.6 442.2,432.2 C441.1,433.7 439.5,434.5 437.8,435.7 C435.8,437.1 433.2,438.6 430.9,440" stroke-width="2.2" fill="none" />
<path d="M430.9,440 C429.2,441 427.5,442.1 425.8,443.1 C424,444.1 422.3,445.2 420.6,446.2 C419,447.3 417.3,448.4 415.6,449.5 C414,450.6 412.3,451.8 410.7,452.9 C409.1,454.1 407.5,455.3 405.9,456.5 C404.3,457.7 402.8,459 401.2,460.2 C399.6,461.4 398,462.6 396.4,463.8 C394.8,465 393.2,466.2 391.6,467.4 C389.9,468.5 388.3,469.7 386.7,470.9 C385.1,472 383.4,473.2 381.8,474.4 C380.2,475.6 378.6,476.7 377,477.9 C375.3,479.1 373.7,480.2 372.1,481.4 C370.5,482.6 368.8,483.7 367.2,484.9 C365.6,486.1 364,487.2 362.3,488.4 C360.7,489.6 359.1,490.8 357.5,491.9 C355.8,493.1 354.2,494.3 352.6,495.4 C351,496.6 349.4,497.8 347.7,498.9 C346.1,500.1 344.6,501.2 342.9,502.5 C341.1,503.8 339,505.3 337.2,506.6 C335.5,507.8 334,508.9 332.4,510.1 C330.8,511.3 329.2,512.5 327.6,513.7 C326,514.9 324.4,516.1 322.8,517.4 C321.2,518.6 319.6,519.8 318.1,521.1 C316.5,522.3 314.9,523.6 313.4,524.8 C311.8,526.1 310.2,527.3 308.7,528.6 C307.1,529.8 305.6,531 304,532.3 C302.4,533.5 300.9,534.8 299.3,536 C297.7,537.3 296.2,538.5 294.6,539.8 C293,541 291.5,542.3 289.9,543.5 C288.3,544.8 286.8,546 285.2,547.2 C283.6,548.5 282.1,549.7 280.5,551 C278.9,552.2 277.4,553.4 275.8,554.7 C274.2,555.9 272.6,557.2 271.1,558.4 C269.5,559.6 267.9,560.9 266.3,562.1 C264.8,563.3 263.2,564.5 261.6,565.8 C260,567 258.4,568.2 256.8,569.4 C255.2,570.6 253.7,571.9 252.1,573.1 C250.5,574.3 248.9,575.5 247.3,576.7 C245.7,577.9 244.1,579.1 242.4,580.2 C240.8,581.4 239.2,582.6 237.6,583.8 C236,584.9 234.3,586.1 232.7,587.2 C231,588.4 229.4,589.5 227.8,590.6 C226.1,591.8 224.5,592.9 222.8,594 C221.1,595.1 219.5,596.2 217.8,597.3 C216.1,598.4 214.4,599.5 212.8,600.6 C211.1,601.7 209.4,602.8 207.7,603.9 C206.1,605 204.4,606.1 202.7,607.2 C201.1,608.4 199.4,609.5 197.8,610.6 C196.2,611.8 194.6,613 192.9,614.1 C191.3,615.3 189.7,616.5 188.1,617.7 C186.5,618.9 184.9,620.1 183.3,621.3 C181.7,622.5 180.1,623.7 178.6,625 C177,626.2 175.4,627.4 173.8,628.7 C172.2,629.9 170.7,631.1 169.1,632.4 C167.4,633.8 165.4,635.4 163.7,636.8 C162.1,638.1 160.6,639.4 159.1,640.7 C157.6,642 156.1,643.3 154.6,644.6 C153.1,645.9 151.6,647.3 150.1,648.5 C148.5,649.8 147,651.1 145.4,652.3 C143.8,653.5 142.2,654.6 140.5,655.8 C138.9,656.9 137.2,658 135.6,659.1 C133.9,660.2 132.2,661.3 130.5,662.4 C128.9,663.5 127.2,664.6 125.5,665.6 C123.8,666.7 122.1,667.8 120.4,668.8 C118.7,669.9 117,670.9 115.3,672 C113.6,673 111.9,674.1 110.2,675.1 C108.5,676.2 106.8,677.3 105.1,678.4 C103.5,679.5 101.8,680.6 100.2,681.8 C98.6,683 97,684.2 95.5,685.4 C93.9,686.7 92.4,688 90.9,689.2 C89.3,690.5 87.8,691.9 86.3,693.1 C84.8,694.4 83.3,695.7 81.7,697 C80.2,698.3 78.6,699.5 77.1,700.8" stroke-width="2.5" fill="none" />
<path d="M56,694.5 L70,683.9 L102,660 L107,655" stroke-width="2.2" fill="none" />
<ellipse cx="403" cy="447.8" rx="4.8" ry="4.2" stroke-width="2.6" fill="none" transform="rotate(-20 403 447.8)"/>
<ellipse cx="168.5" cy="622.6" rx="4.6" ry="5.6" stroke-width="2.6" fill="none" transform="rotate(20 168.5 622.6)"/>
<path d="M38.7,711.5 C38.3,703.2 37.2,692.7 37.6,686.5 C37.9,682.8 38.3,680.1 39.2,677.8 C39.9,676 40.7,674.6 42,673.5 C43.4,672.3 45.5,671.4 47.4,670.8 C49.4,670.2 51.6,670.7 53.9,670.2 C56.6,669.7 59.7,668.6 62.6,667.5 C65.5,666.4 68.7,665.3 71.3,663.7 C73.7,662.2 76,660.4 77.8,658.3 C79.6,656.1 81.5,653.4 82.2,650.7 C82.9,648 81.7,644.5 82.2,642 C82.6,639.9 83.1,637.8 84.3,636.5 C85.4,635.3 87.1,634.5 88.7,634.3 C90.4,634.1 92.6,634.8 94.1,635.4 C95.4,635.9 96,637.1 97.4,637.6 C99.1,638.2 101.4,638.3 103.9,638.2 C107.5,638.1 112.7,637 117,636 C121.4,635 125.9,633.2 130,632.2 C133.5,631.3 136.7,630.7 140,630" stroke-width="2.2" fill="none" />
<ellipse cx="89.2" cy="639.8" rx="3.1" ry="3.1" stroke-width="2.0" fill="none"/>
<ellipse cx="46.8" cy="677.8" rx="3.1" ry="3" stroke-width="2.0" fill="none"/>
<ellipse cx="57.4" cy="720.6" rx="9.3" ry="10" stroke-width="2.8" fill="none"/>
<ellipse cx="57.2" cy="719.8" rx="16.5" ry="14.8" stroke-width="2.2" fill="none"/>
<path d="M52.8,695.4 C56.9,695.9 61,696.1 65,697 C69.1,697.9 73.9,698.4 77.2,700.7 C80.5,703 83.3,707.4 85,711 C86.5,714.3 87.1,718 87.2,721.5 C87.3,725 87.5,730.1 85.9,732 C84.8,733.4 82.4,733.1 80.7,733.7" stroke-width="2.2" fill="none" />
<path d="M53.7,698.9 C57.8,699.3 62.1,699.1 66,700 C69.8,700.9 74.1,701.8 77,704 C79.7,706.2 81.8,709.9 83,713 C84.1,715.9 84.6,718.9 84.5,722 C84.4,725.3 83.1,728.7 82.4,732" stroke-width="1.4" fill="none" />
<path d="M38.9,712 C39.8,712 40.7,712.5 41.5,712 C43.1,711 44.1,705.8 46,703 C47.9,700.2 50.5,697.9 52.8,695.4" stroke-width="2.2" fill="none" />
<path d="M45,731 C44.4,731.9 44,732.5 43.3,733.7 C41.8,736.3 38.3,742.1 37.2,745.9 C36.3,749 35.9,752.4 36.3,754.6 C36.6,756 37.6,756.7 38,758 C38.5,759.5 37.8,762.3 38.9,763.3 C40.3,764.5 44.3,764.4 46.7,763.3 C49.9,761.8 52.5,756.3 55.4,752.8 C58.3,749.3 60.9,745.2 64.1,742.4 C67,739.8 70.7,737.8 73.7,736.3 C76.1,735.1 78.4,734.6 80.7,733.7" stroke-width="2.2" fill="none" />
<ellipse cx="45.4" cy="749.8" rx="4.8" ry="4.8" stroke-width="2.0" fill="none"/>
<path d="M85.9,712.8 C87.9,713.1 89.9,713.3 91.9,713.6 C93.8,713.9 95.8,714.2 97.8,714.4 C99.8,714.7 101.8,715 103.8,715.2 C105.7,715.5 107.7,715.8 109.7,716.1 C111.7,716.3 113.7,716.6 115.7,716.9 C117.6,717.1 119.6,717.4 121.6,717.7 C123.6,718 125.6,718.2 127.6,718.5 C129.5,718.8 131.5,719.1 133.5,719.3 C135.5,719.6 137.5,719.9 139.5,720.2 C141.4,720.4 143.4,720.7 145.4,721 C147.4,721.3 149.4,721.5 151.4,721.8 C153.3,722 155.3,722.3 157.3,722.6 C159.3,722.8 161.3,723.1 163.3,723.3 C165.3,723.6 167.2,723.8 169.2,724.1 C171.2,724.3 173.2,724.6 175.2,724.8 C177.2,725.1 179.2,725.4 181.1,725.6 C183.1,725.9 185,726.1 187.1,726.4 C189.3,726.6 191.8,727 194.1,727.2 C196.1,727.5 198,727.7 200,728 C202,728.2 204,728.5 206,728.7 C208,729 209.9,729.3 211.9,729.5 C213.9,729.7 215.9,730 217.9,730.2 C219.9,730.5 221.9,730.7 223.9,731 C225.8,731.2 227.8,731.5 229.8,731.7 C231.8,731.9 233.8,732.2 235.8,732.4 C237.8,732.7 239.8,732.9 241.7,733.1 C243.7,733.4 245.7,733.6 247.7,733.9 C249.7,734.1 251.7,734.4 253.7,734.6 C255.7,734.8 257.6,735.1 259.6,735.3 C261.6,735.6 263.6,735.8 265.6,736 C267.6,736.3 269.6,736.5 271.6,736.8 C273.5,737 275.5,737.2 277.5,737.5 C279.5,737.7 281.5,738 283.5,738.2 C285.5,738.4 287.5,738.7 289.4,738.9 C291.4,739.2 293.4,739.4 295.4,739.6 C297.4,739.9 299.4,740.1 301.4,740.4 C303.4,740.6 305.3,740.9 307.3,741.1 C309.3,741.4 311.3,741.7 313.3,741.9 C315.3,742.2 317.2,742.5 319.2,742.8 C321.2,743 323.2,743.3 325.2,743.6 C327.2,743.9 329.1,744.2 331.1,744.5 C333.1,744.8 335.1,745.1 337.1,745.4 C339,745.7 341,745.9 343,746.2 C345,746.5 347,746.8 348.9,747.1 C350.9,747.4 352.9,747.7 354.9,748 C356.9,748.3 358.8,748.6 360.8,748.9 C362.8,749.1 364.8,749.4 366.8,749.7 C368.8,750 370.7,750.3 372.7,750.6 C374.7,750.9 376.7,751.2 378.7,751.5 C380.6,751.8 382.6,752.1 384.6,752.3 C386.6,752.6 388.6,752.9 390.5,753.2 C392.5,753.5 394.4,753.7 396.5,754 C398.7,754.3 401.2,754.6 403.4,754.9 C405.5,755.1 407.4,755.3 409.4,755.5 C411.4,755.7 413.4,756 415.4,756.2 C417.4,756.4 419.4,756.6 421.4,756.9 C423.3,757.1 425.3,757.3 427.3,757.6 C429.3,757.8 431.3,758.1 433.3,758.4 C435.3,758.6 437.2,758.9 439.2,759.1 C441.2,759.4 443.2,759.7 445.2,759.9 C447.2,760.2 449.1,760.5 451.1,760.8 C453.1,761.1 455.1,761.4 457.1,761.6 C459.1,761.9 461,762.2 463,762.5 C465,762.8 467,763.1 468.9,763.4 C470.9,763.7 472.9,764 474.9,764.3 C476.9,764.6 478.8,764.9 480.8,765.2 C482.8,765.5 484.8,765.8 486.8,766.1 C488.7,766.4 490.7,766.7 492.7,767 C494.7,767.3 496.7,767.5 498.7,767.8 C500.6,768.1 502.6,768.4 504.6,768.7" stroke-width="2.6" fill="none" />
<path d="M87.6,730.2 C89.6,730.6 91.5,731 93.5,731.4 C95.4,731.8 97.4,732.2 99.4,732.6 C101.3,733 103.3,733.4 105.2,733.8 C107.2,734.2 109.2,734.6 111.1,735 C113.1,735.4 115,735.8 117,736.2 C119,736.7 120.9,737.1 122.9,737.5 C124.8,737.9 126.7,738.3 128.7,738.7 C130.9,739.2 133.4,739.7 135.6,740.2 C137.6,740.6 139.5,741 141.5,741.4 C143.4,741.8 145.4,742.2 147.3,742.6 C149.3,743 151.3,743.4 153.2,743.8 C155.2,744.1 157.2,744.4 159.2,744.8 C161.1,745.1 163.1,745.4 165.1,745.7 C167.1,746 169,746.3 171,746.6 C173,746.8 175,747.1 177,747.4 C178.9,747.7 180.9,748 182.9,748.3 C184.9,748.5 186.9,748.8 188.8,749.1 C190.8,749.4 192.8,749.7 194.8,749.9 C196.8,750.2 198.8,750.5 200.7,750.8 C202.7,751.1 204.6,751.3 206.7,751.6 C208.9,752 211.4,752.3 213.6,752.7 C215.7,753 217.6,753.3 219.5,753.6 C221.5,753.9 223.5,754.2 225.5,754.5 C227.4,754.8 229.4,755.1 231.4,755.5 C233.4,755.8 235.3,756.1 237.3,756.4 C239.3,756.8 241.3,757.1 243.2,757.4 C245.2,757.8 247.2,758.1 249.2,758.4 C251.1,758.7 253.1,759.1 255.1,759.4 C257.1,759.7 259,760 261,760.4 C263,760.7 264.9,761 266.9,761.4 C268.9,761.7 270.9,762 272.8,762.3 C274.8,762.6 276.8,763 278.8,763.3 C280.7,763.6 282.7,763.9 284.7,764.2 C286.7,764.5 288.7,764.8 290.6,765.2 C292.6,765.5 294.5,765.8 296.6,766.1 C298.8,766.4 301.3,766.8 303.5,767.2 C305.5,767.5 307.4,767.8 309.4,768.1 C311.4,768.4 313.4,768.7 315.3,769 C317.3,769.3 319.3,769.7 321.3,770 C323.2,770.3 325.2,770.6 327.2,770.9 C329.2,771.2 331.2,771.5 333.1,771.8 C335.1,772.1 337.1,772.4 339.1,772.8 C341,773.1 343,773.4 345,773.7 C347,774 348.9,774.3 350.9,774.6 C352.9,774.9 354.9,775.2 356.9,775.5 C358.8,775.8 360.8,776.2 362.8,776.5 C364.8,776.8 366.7,777.1 368.7,777.4 C370.7,777.7 372.6,778 374.6,778.3 C376.9,778.7 379.3,779.1 381.6,779.4 C383.6,779.7 385.5,780 387.5,780.3 C389.5,780.6 391.4,780.9 393.4,781.2 C395.4,781.5 397.4,781.8 399.4,782 C401.4,782.3 403.3,782.5 405.3,782.8 C407.3,783 409.3,783.2 411.3,783.4 C413.3,783.6 415.3,783.8 417.3,784 C419.3,784.2 421.2,784.4 423.2,784.6 C425.2,784.8 427.2,785.1 429.2,785.3 C431.2,785.5 433.2,785.8 435.2,786 C437.1,786.2 439.1,786.5 441.1,786.8 C443.1,787 445.1,787.3 447.1,787.5 C449.1,787.8 451,788.1 453,788.3 C455,788.6 457,788.8 459,789.1 C461,789.4 462.9,789.6 464.9,789.9 C467.1,790.2 469.6,790.5 471.9,790.8 C473.9,791.1 475.8,791.4 477.8,791.6 C479.8,791.9 481.8,792.1 483.8,792.4 C485.8,792.6 487.7,792.9 489.7,793.2 C491.7,793.4 493.7,793.6 495.7,793.9 C497.7,794.1 499.7,794.4 501.6,794.6 C503.6,794.8 505.6,795.1 507.6,795.3" stroke-width="2.9" fill="none" />
<path d="M154,745 L154,753.4 L162.8,753.4 L162.8,746.5" stroke-width="1.6" fill="none" />
<path d="M276.5,764 L277.5,770.5 L290.5,771 L291,766" stroke-width="1.6" fill="none" />
<path d="M383,782.5 L383.5,787.6 L397.2,787.8 L397.3,784" stroke-width="1.6" fill="none" />
<path d="M132.4,662.1 C132.6,666.7 132.4,671.3 133,676 C133.6,681.1 134.5,686.4 136.1,691.6 C137.8,697.1 140.2,702.9 143,708 C145.7,713 149.5,717.3 152.7,722" stroke-width="2.2" fill="none" />
<path d="M145.3,652.9 C145.5,656.9 145.7,661 146,665 C146.3,669 146.2,672.3 147.2,676.9 C148.6,683.4 151.4,692.6 155,700 C158.7,707.7 164.5,714.7 169.3,722" stroke-width="2.2" fill="none" />
<path d="M413.5,756.3 L413.5,782.2" stroke-width="2.0" fill="none" />
<path d="M416.5,757 L416.5,782.5" stroke-width="1.2" fill="none" />
<path d="M424.4,762 L430.3,762.5 L430.3,778.6 L424.4,778.6 Z" stroke-width="1.0" fill="#111" />
<path d="M433.8,766 L436,776 L438,768 L440,777 L442,769 L445,776 L448,770 L452,776 L456,772 L462,776 L468,775 L473.7,778.6" stroke-width="1.3" fill="none" />
<path d="M430.3,777.5 L501.9,783.3" stroke-width="1.4" fill="none" />
<path d="M443.2,783.3 L501.9,790.4" stroke-width="1.4" fill="none" />
<path d="M471,789 L504,795" stroke-width="1.2" fill="none" />
<path d="M424.4,762 L500,771" stroke-width="1.2" fill="none" />
<ellipse cx="525.4" cy="781" rx="21.7" ry="21.7" stroke-width="2.6" fill="#fff"/>
<ellipse cx="525.4" cy="781" rx="18.8" ry="18.8" stroke-width="1.3" fill="none"/>
<path d="M526.5,676 C527.9,676.1 529.5,677.2 530.5,678.5 C531.7,680.2 532,683.2 532.3,686 C532.7,689.5 532.3,694 532.2,698 C532.1,702 532,706.4 531.5,710 C531,713 530.9,716.1 529.5,718 C528.3,719.7 525.9,721.4 524,721.5 C522.2,721.6 519.7,720.2 518.5,718.5 C517.1,716.6 517.4,713.1 517.2,710 C516.9,706.4 517,702 517.2,698 C517.4,694 517.6,689.5 518.5,686 C519.2,683.2 520,680.2 521.5,678.5 C522.8,677.1 524.9,675.9 526.5,676 Z" stroke-width="2.1" fill="none" />
<ellipse cx="524.2" cy="713.2" rx="5.6" ry="6" stroke-width="2.1" fill="none"/>
<rect x="-4.2" y="-2.8" width="8.5" height="5.5" stroke-width="1.5" fill="#fff" transform="translate(522.3,563.5) rotate(68)"/>
<rect x="-4.2" y="-2.8" width="8.5" height="5.5" stroke-width="1.5" fill="#fff" transform="translate(544,631.5) rotate(85)"/>
<rect x="-5.5" y="-2.8" width="11" height="5.5" stroke-width="1.5" fill="#fff" transform="translate(744,490.5) rotate(-48)"/>
<rect x="-6" y="-2.8" width="12" height="5.5" stroke-width="1.5" fill="#fff" transform="translate(697,544.5) rotate(-48)"/>
<rect x="-10" y="-3" width="20" height="6" stroke-width="1.5" fill="#333" transform="translate(1002,270) rotate(-51)"/>
<rect x="-10.5" y="-3.2" width="21" height="6.5" stroke-width="1.5" fill="#333" transform="translate(882,413) rotate(-51)"/>
<rect x="-12" y="-3.5" width="24" height="7" stroke-width="1.5" fill="#555" transform="translate(759.5,555) rotate(-52)"/>
<rect x="-5.5" y="-2.8" width="11" height="5.5" stroke-width="1.5" fill="#555" transform="translate(686.2,632.8) rotate(-50)"/>
<rect x="-5" y="-2.8" width="10" height="5.5" stroke-width="1.5" fill="#555" transform="translate(641.1,686.9) rotate(-50)"/>
<rect x="-8" y="-3.5" width="16" height="7" stroke-width="1.5" fill="#fff" transform="translate(593.7,739.8) rotate(-52)"/>
<ellipse cx="1095.9" cy="345.5" rx="20" ry="20.1" stroke-width="0" fill="#111"/>
<ellipse cx="1095.6" cy="346" rx="18.4" ry="14.3" stroke-width="0" fill="#fff"/>
<path d="M941,284.5 C940.2,286 939,287.3 938.5,289 C937.9,290.8 937.8,293 937.8,295 C937.8,297 938,299.3 938.8,301 C939.6,302.6 941.1,304.8 942.5,305 C943.9,305.2 945.8,303.9 947,302.5 C948.5,300.8 949.1,297.6 949.8,295 C950.5,292.4 950.7,289.4 951,287 C951.2,285 951.3,283.3 951.5,281.5" stroke-width="4.4" fill="none" />
<path d="M942.4,271.8 C944.3,272.3 946,272.6 948,273.2 C950.4,273.9 953.2,275.1 955.8,275.9 C958.2,276.6 960.6,277.2 963,277.8 C965.4,278.4 967.9,278.9 970.3,279.5" stroke-width="3.6" fill="none" />
<path d="M960.5,267.6 C960.3,272.4 960.1,277.3 959.9,282.1 C959.7,286.9 959.6,291.7 959.4,296.5" stroke-width="3.8" fill="none" />
<path d="M961,277 C961.7,272.5 962,267.5 963,263.5 C963.8,260.1 964.6,256.3 966.1,254.2 C967.2,252.6 969.4,250.8 970.3,251.1 C971.2,251.4 971.5,254.5 971.3,256.3 C971.1,258.5 969.4,261.1 968.2,263.5 C967,265.9 963.5,270.1 964,270.7 C964.3,271.1 966.1,270.4 967.2,269.7 C969.1,268.6 971.5,265.7 973.4,263.5 C975.3,261.3 976.8,258.7 978.5,256.3 C980.2,253.9 983.3,251.3 983.7,249.1 C984,247.6 983.5,245.9 982.6,244.9 C981.6,243.8 978.7,242.5 977.5,242.9 C976.5,243.2 975.3,245 975.4,246 C975.5,247.1 977.2,248.7 978.5,249.1 C980.1,249.6 982.6,248.4 984.7,248" stroke-width="3.8" fill="none" />
<path d="M984.7,240.8 C986.1,241.5 987.5,242.2 988.8,242.9 C989.9,243.5 990.7,244.7 991.9,244.9 C993.4,245.2 995.5,244.8 997.1,243.9 C999.1,242.7 1001.3,240 1002.3,237.7 C1003.3,235.5 1003.5,232.8 1003.3,230.5 C1003.1,228.3 1001.9,226.4 1001.2,224.3" stroke-width="4.6" fill="none" />
<path d="M1047.6,32.2 L1053.3,48.3" stroke-width="2.0" fill="none" />
<path d="M1048.6,46.5 L1053.6,48.6 L1057,41.6" stroke-width="2.0" fill="none" />
<path d="M1108,185.3 C1110.3,187.5 1112.5,190.1 1115,192 C1117.4,193.9 1120.1,195.1 1122.7,196.7" stroke-width="2.0" fill="none" />
<path d="M1108.9,190.5 L1108,184.5 L1113.7,182.9" stroke-width="2.0" fill="none" />
<path d="M640.7,203.4 C640.8,205.6 640.6,207.5 641,210 C641.5,213.2 643.1,217.4 644.2,221.1" stroke-width="2.0" fill="none" />
<path d="M637.6,220.6 C638.7,221.9 639.6,223.8 640.9,224.6 C642.1,225.4 643.8,226.1 645,225.7 C646.4,225.3 647.6,223.2 648.7,221.7 C649.9,220 650.9,218 652,216.1" stroke-width="2.0" fill="none" />
<path d="M775.2,304.4 C777.9,302.5 780.9,301 783.3,298.7 C785.8,296.3 788.1,293.4 789.7,290.2 C791.4,286.8 792.3,282.6 793.2,278.9 C794.1,275.3 794.7,271.8 795,268.3 C795.3,264.9 795,261.5 795,258.1" stroke-width="2.0" fill="none" />
<path d="M786.1,263.7 C788.1,260.3 790,254.3 792.2,253.5 C793.6,253 795,254.9 796.7,255.2 C798.6,255.5 801,255 803.1,254.9" stroke-width="2.0" fill="none" />
<path d="M403.7,301 L407.5,310.7" stroke-width="2.0" fill="none" />
<path d="M403,306 L407.5,311 L412.8,305" stroke-width="2.0" fill="none" />
<path d="M363.4,349 L378.3,343.7" stroke-width="2.0" fill="none" />
<path d="M374,340 L379,343.5 L375.5,348.5" stroke-width="2.0" fill="none" />
<path d="M287,444.8 C298,442.4 309.2,439.4 320,437.5 C330.2,435.7 340,434.2 350,433.5 C360,432.8 370,433.5 380,433.5" stroke-width="2.0" fill="none" />
<path d="M376,429.2 L381,434.5 L372.8,439" stroke-width="2.0" fill="none" />
<path d="M258.5,470.7 C252.3,476.1 245.8,481.5 240,487 C234.5,492.3 230.2,496.9 224.5,503 C217.2,510.8 207.6,520.2 200,530 C192.1,540.2 182.8,552.4 178.3,563 C174.7,571.4 174.7,579.3 172.9,587.5" stroke-width="2.0" fill="none" />
<path d="M164.7,583.4 L172.9,587.5 L179.7,580.7" stroke-width="2.0" fill="none" />
<path d="M78,604 C80.3,606 83.5,607.2 85,610 C86.8,613.3 85.9,618.9 86.4,623.4" stroke-width="2.0" fill="none" />
<path d="M81,618.5 L86.4,624 L90,615" stroke-width="2.0" fill="none" />
<path d="M103.8,788.4 C102.9,781.6 102.8,774.2 101,768 C99.3,762.3 96.1,757.7 93.7,752.5" stroke-width="2.0" fill="none" />
<path d="M91,758.5 L93.7,752.5 L103,751.6" stroke-width="2.0" fill="none" />
<path d="M602.7,515.6 C602.9,519.4 603.8,523.2 603.4,527 C602.9,530.8 601.9,534.8 599.9,538.4 C597.6,542.5 593.5,546.2 589.9,549.8 C586.3,553.4 582.2,556.5 578.5,559.8 C575,562.9 571.8,565.9 568.5,569" stroke-width="2.0" fill="none" />
<path d="M571.4,557.6 L568.5,569 L583.5,565.5" stroke-width="2.0" fill="none" />
<path d="M679.6,514.2 C683.9,514.7 687.9,515.1 692.4,515.6 C697.4,516.2 702.9,517 708.1,517.7" stroke-width="2.0" fill="none" />
<path d="M701.7,513.5 L708.1,517 L698.9,525.6" stroke-width="2.0" fill="none" />
<path d="M934.1,433.3 L916.6,421.3" stroke-width="2.0" fill="none" />
<path d="M916.6,431.5 L916.6,421.3 L924.9,418.6" stroke-width="2.0" fill="none" />
<path d="M697.3,698.3 L679.9,684.2" stroke-width="2.0" fill="none" />
<path d="M681,695 L679.9,684.2 L690.8,685.3" stroke-width="2.0" fill="none" />
<path d="M1080.5,274.3 C1080,269.5 1080.5,264.8 1079,260 C1077.3,254.4 1073.5,248.4 1070,243 C1066.5,237.5 1062,232.6 1058,227.4" stroke-width="2.0" fill="none" />
<path d="M1057,236.2 L1058,227.4 L1064.8,229.3" stroke-width="2.0" fill="none" />
<path d="M476,714 C478,715.3 479.6,717.5 482,718 C484.8,718.6 488.8,716.5 492,716 C495,715.6 497.8,715.5 500.7,715.3" stroke-width="2.0" fill="none" />
<path d="M498.4,711.7 L500.7,715.3 L499.5,721" stroke-width="2.0" fill="none" />
<path d="M409,828.5 C414.3,825.7 420,823.6 425,820 C430.3,816.2 436.1,810.9 440,806 C443.4,801.7 445.3,797.1 447.9,792.7" stroke-width="2.0" fill="none" />
<path d="M439.7,798.6 L447.9,792.7 L452.6,799.8" stroke-width="2.0" fill="none" />
<path d="M561.7,822 C560.1,817.3 559.7,811.7 557,808 C554.5,804.4 550,802.5 546.5,799.8" stroke-width="2.0" fill="none" />
<path d="M545.3,806.8 L546.5,799.8 L558.2,799.8" stroke-width="2.0" fill="none" />
<path d="M1029.5,20.9 L1022.7,22.3 L1025,33.5 L1031.8,32.1 M1023.9,27.9 L1029.4,26.8 M1041.8,21.3 L1040.5,20.3 L1039,20 L1037.6,20.3 L1036.4,21.2 L1035.5,22.5 L1035.1,24.2 L1035.2,26 L1035.9,27.8 L1036.9,29.2 L1038.2,30.1 L1039.7,30.4 L1041.1,30.1 L1042.3,29.2 L1043.2,27.9 M1050.7,17.7 L1052.9,16.6 L1055.6,16.5 L1057.2,17.9 L1056.8,20 L1054.2,21.6 L1057.6,22.1 L1058.8,24.1 L1057.9,26.2 L1055.4,27.3 L1052.6,27.2 M1062.2,16.7 L1062.7,21.7 L1068.2,20.5 M1066.3,16.3 L1068,24.7" stroke-width="2.15" fill="none" />
<path d="M1143.5,183.1 L1136.2,183.3 L1136.6,196.8 L1143.9,196.6 M1136.4,190.1 L1142.4,189.9 M1156.8,185.1 L1155.4,183.6 L1153.9,182.9 L1152.2,182.9 L1150.7,183.8 L1149.4,185.3 L1148.7,187.4 L1148.5,189.7 L1148.8,192 L1149.7,194 L1151,195.5 L1152.6,196.2 L1154.3,196.2 L1155.8,195.3 L1157,193.8 M1168.2,183.8 L1167.8,190.4 L1174.4,190.2 M1173,184.3 L1173.4,195.7 M1179,183.5 L1178.6,190.1 L1185.2,189.9 M1183.9,183.9 L1184.2,195.3" stroke-width="2.15" fill="none" />
<path d="M592.5,137.3 L584.7,137.5 L585,150 M584.8,143.5 L591.2,143.3 M598,141.2 L598.2,147.1 L598.2,147.1 L598.4,148.1 L599.1,148.9 L600.2,149.4 L601.4,149.6 L602.6,149.4 L603.6,148.8 L604.3,147.9 L604.5,147 L604.4,141 M608,140.9 L608.3,149.4 L613.4,149.3 M616.8,140.7 L617,149.2 L622.2,149.1 M625.6,140.5 L628.9,144.6 L632,140.3 M628.9,144.6 L629,148.9 M649.1,138.4 L649.3,148.4 M649.1,138.4 L651.5,138.3 L651.5,138.3 L653.1,138.5 L654.6,139.2 L655.8,140.3 L656.6,141.6 L656.9,143.2 L656.7,144.7 L656,146.1 L654.8,147.3 L653.4,148 L651.7,148.3 L649.3,148.4 M668.2,143.9 L668,145.4 L667.3,146.8 L666.1,147.6 L664.8,148 L663.5,147.7 L662.4,146.9 L661.6,145.6 L661.3,144.1 L661.5,142.5 L662.2,141.2 L663.3,140.3 L664.6,140 L666,140.3 L667.1,141.1 L667.9,142.4 L668.2,143.9 M671.6,139.8 L671.7,145.4 L671.7,145.4 L671.9,146.3 L672.6,147.1 L673.6,147.6 L674.7,147.7 L675.9,147.5 L676.8,147 L677.5,146.2 L677.7,145.3 L677.5,139.7 M681.2,147.6 L681,139.6 M681,139.6 L684.6,139.5 L684.6,139.5 L685.6,139.7 L686.3,140.4 L686.6,141.4 L686.4,142.3 L685.7,143 L684.7,143.3 L681.1,143.4 M681.1,143.4 L684.9,143.3 L684.9,143.3 L686,143.6 L686.8,144.3 L687.1,145.3 L686.8,146.4 L686.1,147.2 L685,147.5 L681.2,147.6 M690.2,139.3 L690.4,147.3 L695.2,147.2 M703.8,139 L698.5,139.1 L698.7,147.1 L704,147 M698.6,143.1 L702.9,143" stroke-width="2.15" fill="none" />
<path d="M584.2,167 L584,157 M584,157 L588.4,156.9 L588.4,156.9 L589.5,157.2 L590.4,158.1 L590.7,159.3 L590.4,160.5 L589.6,161.4 L588.5,161.7 L584.1,161.8 M584.1,161.8 L588.7,161.7 L588.7,161.7 L590,162 L590.9,163 L591.3,164.3 L590.9,165.6 L590,166.5 L588.8,166.9 L584.2,167 M595,158.3 L595.2,164.2 L595.2,164.2 L595.4,165.2 L596.1,166 L597.1,166.6 L598.2,166.7 L599.4,166.5 L600.4,165.9 L601,165.1 L601.2,164.1 L601.1,158.2 M604.6,158.1 L610.6,158 M607.6,158 L607.8,166.5 M614.1,157.9 L620.2,157.8 M617.2,157.8 L617.3,166.3 M629.1,157.6 L623.7,157.7 L623.9,166.2 L629.2,166.1 M623.8,162 L628.2,161.9 M632.6,157.5 L632.7,166 M632.6,157.5 L634.5,157.5 L634.5,157.5 L635.8,157.7 L637.1,158.3 L638,159.2 L638.7,160.4 L638.9,161.7 L638.7,163 L638.1,164.2 L637.2,165.1 L636,165.8 L634.7,166 L632.7,166 M649.6,155.7 L649.8,165.7 M656.7,155.6 L656.9,165.6 M649.7,160.7 L656.8,160.6 M666.3,156.9 L660.9,157 L661.1,165.5 L666.4,165.4 M661,161.2 L665.4,161.2 M669.9,165.3 L673.3,156.7 L676.9,165.2 M671.3,162.1 L675.4,162 M680.3,156.6 L686.3,156.5 M683.3,156.5 L683.5,165 M697.2,154.8 L704.3,154.6 M700.7,154.7 L700.9,164.7 M708.6,164.6 L708.4,156.1 L711.9,156 L711.9,156 L713,156.2 L713.8,157 L714.1,158.1 L713.8,159.1 L713.1,159.9 L712,160.2 L708.5,160.3 M710.9,160.3 L714.6,164.4 M723.1,155.8 L717.8,155.9 L717.9,164.4 L723.3,164.3 M717.9,160.1 L722.2,160 M726.8,164.2 L730.2,155.6 L733.8,164.1 M728.2,160.9 L732.3,160.9 M737.2,155.5 L743.2,155.4 M740.2,155.4 L740.4,163.9 M752.1,155.2 L746.7,155.3 L746.9,163.8 L752.3,163.7 M746.8,159.5 L751.2,159.5 M755.6,155.1 L755.8,163.6 M755.6,155.1 L757.5,155.1 L757.5,155.1 L758.9,155.3 L760.1,155.8 L761,156.8 L761.7,157.9 L761.9,159.3 L761.7,160.6 L761.1,161.8 L760.2,162.7 L759,163.4 L757.7,163.6 L755.8,163.6" stroke-width="2.15" fill="none" />
<path d="M586.5,170 L585.9,176.9 L594.8,176.6 M593,170.4 L593.3,182.3 M600.4,173.8 L601.6,172.6 L601.9,182.1 M606.2,173 L608.6,172.4 L611.3,172.7 L612.5,174.2 L611.7,175.9 L609,176.9 L612.2,177.8 L613,179.7 L611.8,181.3 L609.1,181.9 L606.4,181.4 M624.2,176.7 L624,178.6 L623.3,180.1 L622.2,181.2 L620.8,181.6 L619.5,181.2 L618.3,180.2 L617.5,178.7 L617.2,176.9 L617.4,175.1 L618.2,173.5 L619.3,172.5 L620.6,172.1 L621.9,172.4 L623.1,173.4 L623.9,174.9 L624.2,176.7 M651.9,172.1 L650.5,171 L648.3,170.8 L646,171.5 L645.1,173.1 L645.9,174.7 L648.7,175.6 L651.3,176.6 L652.3,178.2 L651.6,180 L649.1,180.8 L646.5,180.5 L645,179.3 M656.7,170.6 L664.6,170.4 M660.7,170.5 L660.9,180.5 M676.2,170.1 L669.2,170.3 L669.5,180.3 L676.5,180.1 M669.3,175.3 L675.1,175.1 M687.8,169.8 L680.8,170 L681,180 L688,179.8 M680.9,175 L686.6,174.8 M692.4,169.7 L692.6,179.7 L699,179.5" stroke-width="2.15" fill="none" />
<path d="M584.8,187 L582.9,190.3 L582.4,193.1 L583.2,195.8 L585,198.5 M589.4,190.4 L594.7,190.3 M592.1,190.3 L592.2,197.8 M597.8,190.2 L598,197.7 M603.1,190.1 L603.3,197.6 M597.9,194 L603.2,193.9 M610.9,190 L606.2,190.1 L606.4,197.5 L611.1,197.5 M606.3,193.8 L610.2,193.7 M627.2,190.6 L626.2,189.6 L625,189.2 L623.7,189.4 L622.6,190.1 L621.8,191.3 L621.4,192.8 L621.6,194.3 L622.1,195.7 L623.1,196.7 L624.3,197.2 L625.6,197.1 L626.7,196.4 L627.6,195.3 L628,193.8 L628,193.5 L625.1,193.6 M637.5,193 L637.3,194.5 L636.6,195.8 L635.6,196.7 L634.3,197 L633.1,196.7 L632,195.9 L631.2,194.6 L630.9,193.1 L631.2,191.5 L631.9,190.2 L632.9,189.4 L634.2,189 L635.4,189.3 L636.5,190.2 L637.3,191.4 L637.5,193 M647.4,192.8 L647.2,194.3 L646.5,195.6 L645.5,196.5 L644.2,196.8 L642.9,196.6 L641.9,195.7 L641.1,194.4 L640.8,192.9 L641.1,191.4 L641.7,190.1 L642.8,189.2 L644.1,188.8 L645.3,189.1 L646.4,190 L647.1,191.2 L647.4,192.8 M650.6,188.7 L650.8,196.7 M650.6,188.7 L652.5,188.7 L652.5,188.7 L653.7,188.9 L654.9,189.4 L655.8,190.3 L656.4,191.4 L656.6,192.6 L656.4,193.8 L655.9,195 L655,195.9 L653.9,196.5 L652.6,196.7 L650.8,196.7 M672.6,189 L671.5,188 L669.8,187.9 L668.1,188.4 L667.3,189.8 L668,191.1 L670.1,191.9 L672.1,192.7 L672.9,194.2 L672.3,195.6 L670.4,196.3 L668.4,196 L667.2,195 M676.3,187.7 L682.3,187.6 M679.3,187.7 L679.4,196.2 M685.8,187.5 L685.9,193.5 L685.9,193.5 L686.1,194.5 L686.8,195.3 L687.8,195.8 L689,196 L690.1,195.8 L691.1,195.2 L691.7,194.4 L691.9,193.4 L691.8,187.4 M700.4,187.3 L695.3,187.4 L695.5,195.9 M695.4,191.4 L699.5,191.4 M708.9,187.1 L703.9,187.2 L704,195.7 M704,191.3 L708,191.2 M712.4,185 L714.4,188.2 L714.9,190.8 L714.2,193.4 L712.6,196.1" stroke-width="2.15" fill="none" />
<path d="M690.6,310.1 L689.4,308.9 L687.5,308.8 L685.6,309.5 L684.8,311.2 L685.5,312.9 L688,313.8 L690.2,314.7 L691.2,316.5 L690.6,318.3 L688.5,319.2 L686.3,318.9 L684.9,317.7 M695,309.9 L695.5,318.9 M704.7,311 L703.6,310 L702.3,309.5 L701,309.7 L699.9,310.6 L699.2,312 L698.9,313.6 L699,315.3 L699.7,316.9 L700.7,318 L701.9,318.5 L703.2,318.3 L704.4,317.6 L705.2,316.3 L705.6,314.6 L705.6,314.3 L702.6,314.4 M708.8,318.2 L708.3,309.2 L714.8,317.9 L714.3,308.9 M718.2,317.7 L721.1,308.5 L724.9,317.3 M719.4,314.2 L723.3,314 M727.8,308.2 L733.6,307.9 M730.7,308 L731.2,317 M737,307.7 L737.3,314 L737.3,314 L737.6,315 L738.2,315.9 L739.2,316.4 L740.3,316.6 L741.4,316.3 L742.3,315.7 L742.9,314.7 L743.1,313.7 L742.8,307.4 M746.6,316.2 L746.1,307.2 L749.5,307.1 L749.5,307.1 L750.5,307.3 L751.3,308.1 L751.7,309.2 L751.4,310.3 L750.7,311.2 L749.7,311.6 L746.4,311.7 M748.7,311.6 L752.4,315.9 M760.2,306.5 L755.1,306.8 L755.6,315.8 L760.7,315.5 M755.3,311.3 L759.5,311.1" stroke-width="2.15" fill="none" />
<path d="M689.6,327.1 L689.3,328.8 L688.6,330.2 L687.6,331.2 L686.4,331.5 L685.2,331.2 L684.1,330.2 L683.5,328.7 L683.2,327 L683.5,325.3 L684.2,323.8 L685.2,322.9 L686.4,322.5 L687.6,322.9 L688.7,323.9 L689.3,325.3 L689.6,327.1 M692.8,322.6 L695.5,331.6 L698.4,322.6 M701.5,331.7 L704.7,322.7 L707.8,331.7 M702.8,328.2 L706.5,328.3 M711,322.7 L711,331.7 L715.4,331.8 M718.8,322.8 L718.8,331.8 M722.2,322.8 L727.5,322.9 L722.1,331.8 L727.4,331.9 M735.5,322.9 L730.7,322.9 L730.6,331.9 L735.4,331.9 M730.6,327.4 L734.6,327.4 M738.6,323 L738.6,332 M738.6,323 L740.4,323 L740.4,323 L741.6,323.2 L742.7,323.9 L743.5,324.9 L744.1,326.1 L744.2,327.5 L744,328.9 L743.5,330.1 L742.6,331.1 L741.5,331.8 L740.3,332 L738.6,332 M747.4,332 L751.8,323.1 M760.6,324.8 L759.7,323.7 L758.7,323.2 L757.6,323.2 L756.6,323.7 L755.7,324.7 L755.2,326.1 L755,327.6 L755.1,329.1 L755.7,330.5 L756.5,331.5 L757.5,332.1 L758.6,332.1 L759.7,331.5 L760.5,330.5 M763.6,323.2 L763.6,329.5 L763.6,329.5 L763.8,330.5 L764.3,331.4 L765.2,332 L766.3,332.2 L767.3,332 L768.2,331.4 L768.8,330.5 L769,329.5 L769.1,323.2 M772.1,332.2 L772.2,323.2 L775.4,323.3 L775.4,323.3 L776.4,323.6 L777.1,324.4 L777.3,325.5 L777,326.7 L776.3,327.5 L775.4,327.8 L772.2,327.7 M774.4,327.8 L777.6,332.3 M780.7,323.3 L783.4,332.3 L786.3,323.4 M794.3,323.4 L789.5,323.4 L789.4,332.4 L794.2,332.4 M789.4,327.9 L793.4,327.9 M797.4,323.5 L797.4,332.5 M797.4,323.5 L799.2,323.5 L799.2,323.5 L800.4,323.7 L801.5,324.3 L802.3,325.3 L802.9,326.6 L803,328 L802.8,329.4 L802.3,330.6 L801.4,331.6 L800.3,332.3 L799.1,332.5 L797.4,332.5" stroke-width="2.15" fill="none" />
<path d="M680.2,334.2 L687.2,334.1 M683.7,334.2 L683.8,345.2 M698,340.5 L697.8,342.3 L697,343.7 L696,344.7 L694.7,345.1 L693.4,344.7 L692.3,343.8 L691.6,342.3 L691.3,340.6 L691.6,338.9 L692.3,337.4 L693.4,336.4 L694.6,336.1 L695.9,336.4 L697,337.4 L697.7,338.8 L698,340.5 M701.4,345 L701.3,336 L704.4,336 L704.4,336 L705.5,336.3 L706.2,337.1 L706.5,338.2 L706.2,339.4 L705.5,340.2 L704.5,340.5 L701.3,340.5 M715.5,335.4 L721.6,335.3 M718.6,335.4 L718.7,344.9 M725.1,335.3 L725.2,342 L725.2,342 L725.4,343 L726.1,344 L727.1,344.6 L728.2,344.8 L729.4,344.6 L730.4,343.9 L731,343 L731.2,341.9 L731.2,335.3 M734.8,344.7 L734.7,335.2 M734.7,335.2 L738.4,335.2 L738.4,335.2 L739.4,335.5 L740.1,336.3 L740.4,337.5 L740.1,338.6 L739.4,339.4 L738.4,339.8 L734.7,339.8 M734.7,339.8 L738.6,339.8 L738.6,339.8 L739.7,340.1 L740.5,341 L740.8,342.2 L740.5,343.4 L739.7,344.4 L738.7,344.7 L734.8,344.7 M749.4,335.1 L744,335.1 L744.1,344.6 L749.5,344.6 M744.1,339.9 L748.5,339.9" stroke-width="2.15" fill="none" />
<path d="M377.1,290.8 L379.2,289.5 L381.7,289.5 L383.3,291.4 L383,294 L380.6,295.7 L383.9,296.6 L385.2,299 L384.4,301.5 L382.1,302.7 L379.4,302.4 M387.3,289.5 L388.1,287.7 L390.8,300.9 M395.4,299.7 L395.5,300 M401.3,287.1 L399.4,286.9 L397.7,288.8 L397.4,292.8 L398.4,296.7 L400.3,298.6 L402,298.7 L403.5,297.1 L403.7,294.9 L402.5,293.1 L400.6,292.8 L398.7,293.9 L398.2,295.7 M407.9,297.5 L405.9,287.2 M406.5,290.1 L407.2,287.2 L408.6,286.6 L410.2,286.9 L411.4,289.1 L412.9,296.4 M411.4,289.1 L412.2,286.2 L413.6,285.6 L415.2,285.9 L416.4,288.1 L417.9,295.4 M422.4,294.5 L420.3,284.2 M420.9,287.2 L421.6,284.3 L423.1,283.7 L424.7,284 L425.9,286.2 L427.4,293.5 M425.9,286.2 L426.6,283.3 L428.1,282.7 L429.7,282.9 L430.9,285.1 L432.4,292.5" stroke-width="2.15" fill="none" />
<path d="M298.6,338.4 L297.4,337.2 L295.7,337.1 L294,337.8 L293.3,339.5 L294,341.2 L296.2,342.1 L298.2,343 L299.1,344.8 L298.6,346.6 L296.7,347.5 L294.8,347.2 L293.5,346 M307.1,337.4 L302.3,337.7 L302.8,347.2 L307.7,346.9 M302.5,342.4 L306.5,342.2 M310.9,346.7 L313.5,337.1 L317.3,346.4 M312,343 L315.7,342.8 M319.9,336.7 L325.4,336.4 M322.6,336.5 L323.2,346 M335.1,345.3 L334.5,334.9 L337.8,334.7 L337.8,334.7 L338.9,335 L339.8,335.9 L340.1,337.2 L339.9,338.5 L339.2,339.5 L338.1,339.9 L334.8,340.1 M350.2,339.7 L350.1,341.6 L349.5,343.1 L348.5,344.2 L347.3,344.6 L346.1,344.4 L345,343.4 L344.2,341.9 L343.8,340.1 L344,338.3 L344.6,336.7 L345.6,335.6 L346.8,335.2 L348,335.5 L349.1,336.4 L349.9,337.9 L350.2,339.7 M358.2,335.8 L357.1,334.8 L355.6,334.7 L354.1,335.3 L353.4,336.9 L354.1,338.4 L356.1,339.2 L357.9,340.1 L358.7,341.6 L358.2,343.3 L356.5,344.1 L354.7,343.8 L353.6,342.8 M361.5,334.3 L367,334 M364.2,334.2 L364.8,343.7" stroke-width="2.15" fill="none" />
<path d="M300.4,351.6 L299.6,350.6 L298.5,350 L297.4,350 L296.4,350.6 L295.6,351.7 L295.1,353.2 L294.9,354.9 L295.1,356.6 L295.7,358 L296.6,359.1 L297.6,359.7 L298.7,359.7 L299.7,359.1 L300.6,357.9 M303.4,349.8 L303.6,359.6 L308,359.5 M311.2,359.5 L314.2,349.6 L317.5,359.4 M312.4,355.7 L316.1,355.7 M320.7,359.3 L320.5,349.5 L324.1,355.8 L327.5,349.4 L327.7,359.2 M330.9,359.1 L330.7,349.3 L333.7,349.2 L333.7,349.2 L334.6,349.5 L335.4,350.4 L335.7,351.7 L335.4,352.9 L334.7,353.8 L333.8,354.1 L330.8,354.2" stroke-width="2.15" fill="none" />
<path d="M295.4,361.4 L296.1,374.9 M301.3,374.6 L300.7,364.6 L307.6,374.3 L307,364.3 M317,365.5 L316,364.5 L314.8,363.9 L313.5,364 L312.4,364.7 L311.5,365.8 L311,367.4 L310.9,369.1 L311.2,370.8 L311.9,372.2 L312.9,373.3 L314.1,373.8 L315.3,373.8 L316.4,373.1 L317.3,372 M320.3,363.6 L320.8,373.6 L325.7,373.3 M328.8,363.1 L329.1,370.1 L329.1,370.1 L329.4,371.2 L330.2,372.2 L331.2,372.8 L332.4,372.9 L333.5,372.6 L334.5,371.9 L335.1,370.9 L335.3,369.8 L334.9,362.8 M338.4,362.6 L339,372.6 M338.4,362.6 L340.4,362.5 L340.4,362.5 L341.8,362.7 L343,363.3 L344,364.4 L344.7,365.7 L345,367.2 L344.9,368.8 L344.4,370.2 L343.5,371.4 L342.3,372.2 L341,372.5 L339,372.6 M353.7,361.8 L348.3,362.1 L348.9,372 L354.3,371.8 M348.6,367.1 L353,366.8 M357.3,361.6 L357.8,371.6 M357.3,361.6 L359.3,361.5 L359.3,361.5 L360.6,361.6 L361.9,362.3 L362.9,363.3 L363.6,364.7 L363.9,366.2 L363.8,367.8 L363.2,369.2 L362.3,370.4 L361.1,371.1 L359.8,371.5 L357.8,371.6 M367.5,361 L367.8,368 M368,370.7 L368.1,371" stroke-width="2.15" fill="none" />
<path d="M226,465.2 L226.1,450.2 L231.8,450.3 L231.8,450.3 L233.6,450.8 L234.8,452.2 L235.3,454 L234.8,455.9 L233.5,457.3 L231.8,457.8 L226.1,457.7 M230,457.7 L235.8,465.3 M241.2,465.3 L244.7,456.4 L248,465.4 M242.7,461.9 L246.6,462 M257.6,458.1 L256.7,457.1 L255.6,456.6 L254.4,456.5 L253.2,457.1 L252.3,458.1 L251.7,459.4 L251.5,460.9 L251.7,462.5 L252.3,463.8 L253.2,464.9 L254.3,465.4 L255.5,465.4 L256.6,464.9 L257.5,463.9 M260.8,456.5 L260.8,465.5 M266.4,456.6 L260.8,461.9 M262.5,460.6 L266.5,465.6 M276.6,465.7 L276.7,456.2 L280.7,462.4 L284.7,456.3 L284.7,465.8 M294.8,461.6 L294.5,463.2 L293.8,464.6 L292.7,465.5 L291.5,465.8 L290.3,465.5 L289.2,464.6 L288.5,463.2 L288.3,461.6 L288.6,459.9 L289.3,458.6 L290.3,457.6 L291.6,457.3 L292.8,457.7 L293.8,458.6 L294.5,460 L294.8,461.6 M298,457.4 L298,463.3 L298,463.3 L298.2,464.3 L298.8,465.2 L299.7,465.7 L300.7,465.9 L301.8,465.7 L302.7,465.2 L303.3,464.4 L303.5,463.4 L303.6,457.4 M306.7,466 L306.8,457.5 L312.5,466 L312.6,457.5 M315.8,457.6 L321.4,457.6 M318.6,457.6 L318.5,466.1 M329.6,458.9 L328.6,457.9 L327.1,457.7 L325.5,458.2 L324.7,459.5 L325.3,460.9 L327.2,461.8 L329,462.6 L329.7,464.1 L329.2,465.5 L327.4,466.2 L325.6,465.8 L324.5,464.8" stroke-width="2.15" fill="none" />
<path d="M1031.4,288.2 L1031.2,289.6 L1030.7,290.9 L1029.8,291.7 L1028.9,292 L1027.9,291.7 L1027,290.9 L1026.5,289.7 L1026.3,288.3 L1026.5,286.8 L1027,285.6 L1027.8,284.8 L1028.8,284.5 L1029.8,284.8 L1030.6,285.6 L1031.2,286.8 L1031.4,288.2 M1035.7,284.4 L1038,291.9 L1040.2,284.4 M1044.5,291.9 L1047.1,284.3 L1049.7,291.8 M1045.6,289 L1048.6,289 M1053.9,284.3 L1054,291.8 L1057.5,291.8 M1061.9,284.2 L1062,291.7 M1066.4,284.2 L1070.7,284.2 L1066.4,291.7 L1070.7,291.7 M1078.9,284.1 L1074.9,284.1 L1075,291.6 L1078.9,291.6 M1075,287.9 L1078.2,287.9 M1083.1,284.1 L1083.2,291.6 M1083.1,284.1 L1084.6,284.1 L1084.6,284.1 L1085.5,284.2 L1086.4,284.8 L1087.1,285.6 L1087.6,286.6 L1087.7,287.8 L1087.6,288.9 L1087.1,290 L1086.4,290.8 L1085.6,291.4 L1084.6,291.6 L1083.2,291.6 M1099,284 L1099,291.5 M1103.5,291.4 L1103.4,283.9 L1108.1,291.4 L1108,283.9 M1112.3,283.9 L1116.7,283.8 M1114.5,283.8 L1114.5,291.3 M1124.9,283.8 L1121,283.8 L1121,291.3 L1125,291.3 M1121,287.5 L1124.2,287.5 M1129.2,291.2 L1129.2,283.7 L1131.7,283.7 L1131.7,283.7 L1132.5,284 L1133.1,284.6 L1133.3,285.6 L1133.1,286.5 L1132.6,287.2 L1131.8,287.5 L1129.2,287.5 M1131,287.5 L1133.7,291.2 M1137.8,291.2 L1137.7,283.7 L1142.3,291.1 L1142.3,283.6 M1146.6,291.1 L1149.1,283.6 L1151.8,291.1 M1147.7,288.2 L1150.7,288.2 M1156,283.5 L1156,291 L1159.6,291" stroke-width="1.9" fill="none" />
<path d="M1029.4,306.5 L1029.2,296.5 M1029.2,296.5 L1032.8,296.4 L1032.8,296.4 L1033.8,296.7 L1034.5,297.6 L1034.8,298.8 L1034.6,300 L1033.9,300.9 L1032.9,301.2 L1029.3,301.3 M1029.3,301.3 L1033.1,301.2 L1033.1,301.2 L1034.2,301.5 L1035,302.5 L1035.3,303.8 L1035.1,305.1 L1034.3,306 L1033.3,306.4 L1029.4,306.5 M1040.3,298.2 L1040.4,303.8 L1040.4,303.8 L1040.6,304.8 L1041.2,305.5 L1042,306 L1042.9,306.2 L1043.8,306 L1044.6,305.4 L1045.1,304.7 L1045.2,303.7 L1045.1,298.1 M1049.3,298 L1054.1,297.9 M1051.7,298 L1051.9,306 M1058.4,297.8 L1063.2,297.7 M1060.8,297.8 L1061,305.8 M1067.6,297.6 L1067.8,305.6 M1072.2,305.5 L1072,297.5 L1077.2,305.4 L1077,297.4 M1086.2,298.6 L1085.3,297.7 L1084.3,297.3 L1083.2,297.4 L1082.3,298.2 L1081.6,299.3 L1081.3,300.8 L1081.4,302.3 L1081.9,303.7 L1082.8,304.7 L1083.8,305.2 L1084.9,305.1 L1085.8,304.4 L1086.5,303.3 L1086.9,301.9 L1086.9,301.6 L1084.4,301.6 M1097.9,304.9 L1097.7,297.4 L1100.7,302.2 L1103.5,297.3 L1103.7,304.8 M1111.4,297.1 L1107.5,297.2 L1107.6,304.7 L1111.6,304.6 M1107.6,300.9 L1110.8,300.9 M1115.6,304.5 L1118,297 L1120.8,304.4 M1116.6,301.6 L1119.7,301.6 M1124.8,304.3 L1124.6,296.8 L1129.4,304.2 L1129.3,296.7 M1137.3,297.6 L1136.5,296.7 L1135.3,296.6 L1134,297 L1133.4,298.3 L1133.9,299.4 L1135.5,300.2 L1137,300.9 L1137.6,302.1 L1137.2,303.4 L1135.7,304.1 L1134.3,303.8 L1133.4,302.9 M1148.5,303.8 L1148.4,297.8 L1152.2,303.7 L1152.1,297.7 M1159.5,300.5 L1159.4,301.7 L1159,302.6 L1158.3,303.3 L1157.5,303.5 L1156.7,303.3 L1156,302.7 L1155.5,301.7 L1155.4,300.6 L1155.5,299.4 L1155.9,298.5 L1156.6,297.8 L1157.4,297.5 L1158.2,297.8 L1158.9,298.4 L1159.3,299.4 L1159.5,300.5" stroke-width="1.9" fill="none" />
<path d="M1032,318.5 L1032,310 L1036.9,318.5 L1036.9,310 M1045.4,310 L1041.2,310 L1041.2,318.5 L1045.4,318.5 M1041.2,314.2 L1044.7,314.2 M1053.9,310 L1049.7,310 L1049.7,318.5 L1053.9,318.5 M1049.7,314.2 L1053.1,314.2 M1058.2,310 L1058.2,318.5 M1058.2,310 L1059.7,310 L1059.7,310 L1060.8,310.2 L1061.7,310.8 L1062.5,311.8 L1062.9,312.9 L1063.1,314.2 L1062.9,315.6 L1062.5,316.7 L1061.7,317.7 L1060.8,318.3 L1059.7,318.5 L1058.2,318.5 M1077.5,310 L1073.5,310 L1073.5,318.5 M1073.5,314.1 L1076.8,314.1 M1087.3,314.2 L1087.1,315.9 L1086.5,317.3 L1085.6,318.2 L1084.6,318.5 L1083.5,318.2 L1082.6,317.3 L1082,315.9 L1081.8,314.2 L1082,312.6 L1082.6,311.2 L1083.5,310.3 L1084.6,310 L1085.6,310.3 L1086.5,311.2 L1087.1,312.6 L1087.3,314.2 M1091.6,318.5 L1091.6,310 L1094.4,310 L1094.4,310 L1095.2,310.3 L1095.8,311.1 L1096.1,312.1 L1095.8,313.2 L1095.2,314 L1094.4,314.2 L1091.6,314.2 M1093.5,314.2 L1096.4,318.5 M1111.5,311.5 L1110.7,310.5 L1109.7,310 L1108.6,310.2 L1107.7,310.9 L1107,312.2 L1106.7,313.7 L1106.7,315.3 L1107.2,316.8 L1108,317.9 L1109,318.5 L1110.1,318.4 L1111,317.7 L1111.8,316.5 L1112.2,315 L1112.2,314.7 L1109.7,314.7 M1116.1,310 L1116.1,315.9 L1116.1,315.9 L1116.3,316.9 L1116.8,317.8 L1117.6,318.3 L1118.5,318.5 L1119.4,318.3 L1120.2,317.8 L1120.7,316.9 L1120.9,315.9 L1120.9,310 M1129.5,311.2 L1128.6,310.2 L1127.3,310 L1125.9,310.5 L1125.3,311.9 L1125.8,313.2 L1127.5,314.1 L1129,314.9 L1129.6,316.4 L1129.2,317.8 L1127.6,318.5 L1126.1,318.2 L1125.2,317.1 M1138.2,311.2 L1137.4,310.2 L1136,310 L1134.7,310.5 L1134,311.9 L1134.5,313.2 L1136.2,314.1 L1137.7,314.9 L1138.4,316.4 L1137.9,317.8 L1136.4,318.5 L1134.8,318.2 L1133.9,317.1 M1146.8,310 L1142.6,310 L1142.6,318.5 L1146.8,318.5 M1142.6,314.2 L1146.1,314.2 M1151.1,310 L1155.9,310 M1153.5,310 L1153.5,318.5 M1164.4,311.2 L1163.6,310.2 L1162.3,310 L1160.9,310.5 L1160.3,311.9 L1160.7,313.2 L1162.4,314.1 L1164,314.9 L1164.6,316.4 L1164.1,317.8 L1162.6,318.5 L1161,318.2 L1160.1,317.1" stroke-width="1.9" fill="none" />
<path d="M959.9,407.7 L951.3,407.9 L951.6,420.4 M951.5,413.9 L958.4,413.7 M966,411.6 L966.1,417.5 L966.1,417.5 L966.4,418.5 L967.2,419.3 L968.3,419.8 L969.7,420 L971,419.8 L972.1,419.2 L972.8,418.3 L973.1,417.4 L973,411.4 M977,411.3 L977.2,419.8 L982.8,419.7 M986.7,411.1 L986.9,419.6 L992.5,419.5 M1013.5,408.5 L1005.9,408.7 L1006.1,419.1 L1013.8,419 M1006,413.9 L1012.2,413.8 M1018.6,411.9 L1024.3,418.7 M1024.2,411.7 L1018.8,418.9 M1027.5,411.7 L1033.2,411.5 M1030.4,411.6 L1030.5,418.6 M1041.7,411.3 L1036.6,411.4 L1036.7,418.4 L1041.8,418.3 M1036.7,414.9 L1040.8,414.9 M1045.2,418.3 L1045,411.3 L1048.4,411.2 L1048.4,411.2 L1049.4,411.4 L1050.1,412 L1050.4,412.9 L1050.2,413.8 L1049.5,414.4 L1048.4,414.7 L1045.1,414.8 M1047.4,414.7 L1050.9,418.1 M1054.1,418 L1053.9,411.1 L1060,417.9 L1059.9,410.9 M1063.4,417.8 L1066.5,410.8 L1070,417.7 M1064.7,415.1 L1068.6,415.1 M1073.2,410.6 L1073.4,417.6 L1078,417.5" stroke-width="2.15" fill="none" />
<path d="M952.6,437 L952.4,424.5 M952.4,424.5 L957.4,424.4 L957.4,424.4 L958.7,424.8 L959.7,425.9 L960,427.4 L959.7,428.9 L958.8,430 L957.5,430.4 L952.5,430.5 M952.5,430.5 L957.7,430.4 L957.7,430.4 L959.2,430.8 L960.2,432 L960.6,433.6 L960.3,435.3 L959.2,436.5 L957.8,436.9 L952.6,437 M972.2,432 L971.9,433.8 L971.2,435.4 L970,436.4 L968.7,436.8 L967.3,436.4 L966.1,435.4 L965.3,433.9 L965.1,432.1 L965.3,430.3 L966,428.7 L967.2,427.7 L968.6,427.3 L969.9,427.6 L971.1,428.6 L971.9,430.2 L972.2,432 M975.7,427.2 L975.8,436.7 L980.8,436.6 M984.2,427.1 L990.4,427 M987.3,427 L987.4,436.5 M994,432.2 L997.6,432.1 M1008.3,431.5 L1008,433.3 L1007.3,434.9 L1006.1,435.9 L1004.8,436.3 L1003.4,435.9 L1002.2,434.9 L1001.4,433.4 L1001.1,431.6 L1001.4,429.8 L1002.1,428.2 L1003.3,427.2 L1004.6,426.8 L1006,427.1 L1007.2,428.1 L1008,429.7 L1008.3,431.5 M1011.9,436.2 L1011.8,426.7 L1018.2,436.1 L1018.1,426.6 M1021.8,436 L1026.6,426.5 M1030.3,435.9 L1030.2,426.4 L1034.2,432.5 L1038.1,426.3 L1038.2,435.8 M1048.9,430.9 L1048.6,432.7 L1047.9,434.3 L1046.7,435.3 L1045.4,435.7 L1044,435.4 L1042.8,434.4 L1042,432.8 L1041.7,431 L1042,429.2 L1042.7,427.6 L1043.9,426.6 L1045.2,426.2 L1046.6,426.6 L1047.8,427.6 L1048.6,429.1 L1048.9,430.9 M1052.4,426.1 L1052.5,435.6 M1052.4,426.1 L1054.4,426.1 L1054.4,426.1 L1055.7,426.3 L1056.9,427 L1057.9,428 L1058.6,429.3 L1058.8,430.8 L1058.6,432.3 L1058,433.6 L1057,434.6 L1055.8,435.3 L1054.5,435.6 L1052.5,435.6 M1062.3,426 L1062.4,432.6 L1062.4,432.6 L1062.6,433.7 L1063.3,434.6 L1064.3,435.2 L1065.5,435.4 L1066.7,435.2 L1067.7,434.6 L1068.3,433.6 L1068.5,432.5 L1068.4,425.9 M1072,425.8 L1072.1,435.3 L1077.1,435.3 M1080.7,435.2 L1084.1,425.7 L1087.8,435.1 M1082.1,431.6 L1086.3,431.5 M1091.4,435.1 L1091.2,425.6 L1094.8,425.5 L1094.8,425.5 L1095.9,425.8 L1096.7,426.7 L1097,427.9 L1096.7,429.1 L1095.9,430 L1094.9,430.3 L1091.3,430.3 M1093.8,430.3 L1097.5,435" stroke-width="2.15" fill="none" />
<path d="M960.9,442.7 L959.9,441.6 L958.7,441.1 L957.4,441.1 L956.2,441.6 L955.2,442.7 L954.6,444.1 L954.4,445.8 L954.6,447.4 L955.3,448.8 L956.3,449.9 L957.5,450.4 L958.8,450.4 L960,449.8 L960.9,448.8 M964.5,450.5 L968.2,440.9 L971.9,450.4 M966,446.8 L970.4,446.8 M975.6,450.4 L975.6,440.9 M975.6,440.9 L979.5,440.9 L979.5,440.9 L980.5,441.2 L981.3,442 L981.6,443.2 L981.3,444.3 L980.5,445.1 L979.5,445.5 L975.6,445.5 M975.6,445.5 L979.7,445.5 L979.7,445.5 L980.9,445.8 L981.7,446.7 L982,447.9 L981.7,449.2 L980.9,450.1 L979.7,450.4 L975.6,450.4 M985.5,440.9 L985.5,450.4 L990.7,450.3 M1000,440.8 L994.3,440.8 L994.4,450.3 L1000,450.3 M994.4,445.6 L999,445.6 M1011.6,450.3 L1011.5,440.8 L1015.2,440.7 L1015.2,440.7 L1016.4,441.1 L1017.2,441.9 L1017.5,443.1 L1017.2,444.3 L1016.4,445.2 L1015.2,445.5 L1011.5,445.5 M1014.1,445.5 L1017.9,450.2 M1028.8,445.4 L1028.6,447.3 L1027.8,448.8 L1026.6,449.8 L1025.2,450.2 L1023.7,449.8 L1022.5,448.8 L1021.7,447.3 L1021.4,445.5 L1021.7,443.7 L1022.5,442.1 L1023.7,441.1 L1025.1,440.7 L1026.5,441.1 L1027.7,442.1 L1028.6,443.6 L1028.8,445.4 M1032.5,440.7 L1032.6,447.3 L1032.6,447.3 L1032.8,448.4 L1033.5,449.3 L1034.5,449.9 L1035.8,450.2 L1037,449.9 L1038,449.3 L1038.7,448.4 L1039,447.3 L1038.9,440.6 M1042.6,440.6 L1049,440.6 M1045.8,440.6 L1045.9,450.1 M1053,440.6 L1053,450.1 M1057,450.1 L1057,440.6 L1063.6,450 L1063.5,440.5 M1073.8,442.2 L1072.7,441.1 L1071.3,440.5 L1069.9,440.7 L1068.7,441.6 L1067.7,443 L1067.3,444.7 L1067.4,446.5 L1068,448.1 L1069.1,449.4 L1070.5,450 L1071.9,449.9 L1073.2,449.1 L1074.1,447.8 L1074.6,446.1 L1074.7,445.7 L1071.4,445.7" stroke-width="2.15" fill="none" />
<path d="M568.5,496.5 L578.6,495.9 M573.6,496.2 L574.4,510.2 M584.7,498.6 L587.9,509.4 L590.4,502.1 L593.7,509.1 L595.7,498 M609.8,502.7 L609.6,504.8 L608.7,506.6 L607.3,507.9 L605.5,508.4 L603.8,508.1 L602.2,507 L601.1,505.3 L600.6,503.2 L600.8,501.1 L601.7,499.2 L603.2,497.9 L604.9,497.4 L606.7,497.7 L608.3,498.8 L609.4,500.6 L609.8,502.7 M630.8,497.9 L629.5,496.7 L627.9,496.2 L626.3,496.3 L624.9,497 L623.7,498.3 L623,500 L622.8,501.9 L623.2,503.8 L624.1,505.4 L625.4,506.5 L627,507.1 L628.6,507 L630,506.3 L631.2,505 M635.7,506.7 L639.7,495.4 L645,506.1 M637.4,502.4 L642.8,502.1 M657.2,496.4 L655.7,495.1 L654,494.6 L652.3,494.9 L650.7,496 L649.7,497.7 L649.2,499.7 L649.5,501.8 L650.4,503.6 L651.8,505 L653.5,505.6 L655.3,505.4 L656.8,504.4 L657.9,502.8 L658.5,500.8 L658.5,500.4 L654.4,500.6 M669.3,493.7 L662.3,494.1 L662.9,505.1 L670,504.7 M662.6,499.6 L668.4,499.3 M681.2,494.6 L679.7,493.3 L677.5,493.2 L675.3,494 L674.3,495.8 L675.2,497.6 L678.1,498.5 L680.7,499.4 L681.8,501.3 L681.2,503.2 L678.7,504.2 L676.1,503.9 L674.5,502.7" stroke-width="2.15" fill="none" />
<path d="M11.6,584.3 L12.4,599.3 M27.6,585.5 L25.6,583.8 L22.8,583.7 L19.8,584.7 L18.6,587.2 L19.7,589.6 L23.5,590.8 L26.9,592.2 L28.4,594.6 L27.6,597.2 L24.3,598.6 L20.9,598.2 L18.8,596.5 M46.3,589.9 L46,592.8 L44.9,595.3 L43,597 L40.7,597.7 L38.4,597.3 L36.3,595.7 L34.9,593.4 L34.3,590.5 L34.6,587.7 L35.7,585.2 L37.6,583.4 L39.9,582.7 L42.2,583.2 L44.3,584.7 L45.7,587 L46.3,589.9 M61.1,585 L61.8,596.5 M61.1,585 L63.7,584.9 L63.7,584.9 L65.5,585.1 L67.1,585.8 L68.4,587 L69.3,588.6 L69.7,590.3 L69.5,592.1 L68.8,593.8 L67.6,595.1 L66.1,596 L64.3,596.4 L61.8,596.5 M74.3,584.3 L75,595.8 M86.6,585.2 L85.1,583.9 L82.9,583.8 L80.6,584.7 L79.7,586.5 L80.5,588.3 L83.4,589.3 L86.1,590.3 L87.2,592.2 L86.6,594.2 L84,595.3 L81.4,595 L79.8,593.7 M99.7,585 L98.4,583.7 L96.8,583.1 L95.2,583.2 L93.7,584 L92.6,585.4 L91.9,587.1 L91.7,589.1 L92.1,591.1 L93,592.7 L94.3,593.9 L95.8,594.5 L97.5,594.5 L98.9,593.7 L100.1,592.3" stroke-width="2.15" fill="none" />
<path d="M27.6,603.3 L35.7,602.6 M31.6,603 L32.7,613.9 M41.5,613.1 L45.2,601.7 L51,612.2 M43.1,608.7 L48.6,608.2 M55.7,611.7 L54.7,600.8 M54.7,600.8 L59.7,600.3 L59.7,600.3 L61,600.5 L62.1,601.4 L62.6,602.7 L62.3,604 L61.5,605.1 L60.2,605.6 L55.2,606 M55.2,606 L60.4,605.6 L60.4,605.6 L61.9,605.8 L63.1,606.7 L63.6,608.1 L63.3,609.6 L62.4,610.7 L61,611.2 L55.7,611.7" stroke-width="2.15" fill="none" />
<path d="M429.7,669.9 L430.1,680.4 M434.7,680.2 L434.4,671.7 L440.8,680 L440.5,671.5 M444,671.4 L450,671.2 M447,671.3 L447.3,679.8 M458.7,670.9 L453.4,671 L453.7,679.5 L459,679.3 M453.6,675.3 L457.9,675.1 M462.5,679.2 L462.2,670.7 L465.7,670.6 L465.7,670.6 L466.7,670.9 L467.5,671.6 L467.9,672.7 L467.6,673.7 L466.9,674.5 L465.8,674.9 L462.4,675 M464.8,674.9 L468.5,679 M471.8,678.9 L471.4,670.4 L477.9,678.7 L477.6,670.2 M481.4,678.5 L484.5,669.9 L488.3,678.3 M482.7,675.3 L486.8,675.1 M491.5,669.7 L491.8,678.2 L496.6,678" stroke-width="2.15" fill="none" />
<path d="M428.6,685.2 L429,696.2 M428.6,685.2 L431.4,685.1 L431.4,685.1 L433.4,685.3 L435.2,686 L436.6,687.2 L437.6,688.7 L438,690.4 L437.7,692.1 L436.9,693.6 L435.5,694.9 L433.8,695.7 L431.9,696.1 L429,696.2 M443.3,695.7 L443,687.7 L446.8,687.5 L446.8,687.5 L448,687.7 L448.8,688.4 L449.2,689.4 L448.9,690.4 L448.1,691.2 L447,691.5 L443.2,691.7 M445.8,691.6 L449.8,695.4 M460.7,691 L460.5,692.5 L459.7,693.9 L458.6,694.8 L457.1,695.1 L455.7,694.9 L454.4,694.1 L453.6,692.8 L453.2,691.3 L453.4,689.7 L454.2,688.4 L455.4,687.5 L456.8,687.1 L458.3,687.4 L459.5,688.2 L460.4,689.5 L460.7,691 M464.6,694.8 L464.3,686.8 L467.9,686.7 L467.9,686.7 L469,686.9 L469.9,687.6 L470.3,688.6 L470,689.6 L469.2,690.4 L468,690.7 L464.5,690.8 M474.2,694.5 L473.9,686.5 L477.5,686.3 L477.5,686.3 L478.6,686.6 L479.5,687.3 L479.9,688.3 L479.6,689.3 L478.8,690 L477.6,690.3 L474.1,690.5 M489.3,685.9 L483.5,686.1 L483.8,694.1 L489.6,693.9 M483.7,690.1 L488.4,689.9 M493.3,693.7 L493,685.7 L496.8,685.6 L496.8,685.6 L497.9,685.8 L498.8,686.5 L499.2,687.5 L498.9,688.5 L498.1,689.3 L496.9,689.6 L493.2,689.7 M495.8,689.6 L499.8,693.5" stroke-width="2.15" fill="none" />
<path d="M429.8,710.2 L429.3,699.2 L434.2,699 L434.2,699 L435.7,699.3 L436.9,700.2 L437.3,701.6 L437,703 L435.9,704 L434.5,704.5 L429.5,704.7 M433,704.5 L438.3,709.8 M450.3,705 L450.1,706.6 L449.3,708 L448.1,709 L446.7,709.4 L445.2,709.1 L444,708.3 L443.1,706.9 L442.7,705.3 L442.9,703.7 L443.7,702.3 L444.9,701.3 L446.3,700.9 L447.8,701.2 L449,702 L449.9,703.4 L450.3,705 M453.9,700.5 L454.2,706.5 L454.2,706.5 L454.5,707.4 L455.2,708.2 L456.3,708.7 L457.6,708.9 L458.8,708.6 L459.8,708 L460.5,707.2 L460.7,706.2 L460.4,700.2 M464.2,700.1 L470.8,699.7 M467.5,699.9 L467.9,708.4 M474.8,699.5 L475.2,708 M479.3,707.8 L478.9,699.4 L486,707.5 L485.6,699 M496.2,700 L495,699.1 L493.6,698.7 L492.2,698.9 L490.9,699.7 L490,701 L489.6,702.6 L489.8,704.2 L490.5,705.6 L491.7,706.7 L493.1,707.1 L494.5,707 L495.8,706.3 L496.7,705 L497.2,703.5 L497.2,703.2 L493.9,703.3" stroke-width="2.15" fill="none" />
<path d="M681.5,715.9 L679.5,714.4 L677.1,713.7 L674.8,714 L672.7,715.3 L671.2,717.3 L670.3,719.8 L670.3,722.6 L671,725.2 L672.5,727.5 L674.5,729 L676.8,729.7 L679.2,729.4 L681.2,728.1 L682.8,726.1 M689.6,728.1 L693,715.6 L699.6,726.9 M691.1,723.4 L696.9,722.6 M704.6,726.2 L703.1,714.3 L708.1,713.7 L708.1,713.7 L709.7,713.9 L711,714.8 L711.6,716.2 L711.4,717.8 L710.4,719 L708.9,719.6 L703.9,720.3 M707.4,719.8 L713.3,725.1 M725.7,713.6 L724,712.3 L722,711.9 L720.2,712.4 L718.6,713.6 L717.5,715.5 L717.2,717.8 L717.7,720 L718.8,722 L720.4,723.3 L722.3,723.9 L724.2,723.5 L725.9,722.3 L727,720.5 L727.4,718.3 L727.4,717.8 L722.9,718.4 M741.9,715.4 L741.8,717.7 L740.9,719.8 L739.5,721.3 L737.6,722 L735.6,721.8 L733.8,720.7 L732.5,718.9 L731.8,716.7 L731.9,714.3 L732.7,712.3 L734.2,710.8 L736.1,710.1 L738.1,710.3 L739.9,711.3 L741.2,713.1 L741.9,715.4 M759.9,709.1 L758.4,708 L756.7,707.5 L755,707.7 L753.4,708.6 L752.2,710.1 L751.6,712 L751.5,714.1 L752.1,716.1 L753.2,717.8 L754.7,718.9 L756.5,719.4 L758.2,719.2 L759.8,718.3 L760.9,716.8 M766,718.3 L769.5,705.8 L776.1,717 M767.5,713.5 L773.4,712.8 M788.7,705.4 L787,704.2 L785.1,703.8 L783.2,704.2 L781.6,705.5 L780.6,707.4 L780.3,709.7 L780.7,711.9 L781.8,713.9 L783.4,715.2 L785.4,715.7 L787.3,715.4 L788.9,714.2 L790,712.4 L790.4,710.2 L790.5,709.7 L786,710.3 M801.8,701.6 L794.1,702.6 L795.6,714.5 L803.3,713.5 M794.9,708.5 L801.1,707.7" stroke-width="2.15" fill="none" />
<path d="M682,744.3 L681.6,733.3 L688,740.2 L694,732.8 L694.4,743.8 M710.8,737.7 L710.5,739.8 L709.4,741.7 L707.6,742.9 L705.5,743.4 L703.3,743.1 L701.5,742 L700.2,740.2 L699.7,738.1 L700.1,736 L701.2,734.2 L703,732.9 L705.1,732.4 L707.2,732.8 L709.1,733.9 L710.3,735.6 L710.8,737.7 M716.2,732 L716.5,739.7 L716.5,739.7 L716.9,741 L718,742 L719.6,742.6 L721.4,742.8 L723.2,742.5 L724.8,741.7 L725.8,740.6 L726.1,739.3 L725.8,731.7 M731.8,742.4 L731.4,731.4 L741.7,742.1 L741.2,731.1 M746.8,730.9 L756.4,730.5 M751.6,730.7 L752,741.7" stroke-width="2.15" fill="none" />
<path d="M34.4,796.5 L34.6,807 L34.6,807 L35,808.7 L36.1,810.2 L37.7,811.1 L39.6,811.4 L41.5,811.1 L43.2,810.1 L44.2,808.6 L44.6,806.9 L44.5,796.4 M50.3,796.3 L50.5,811.3 M50.3,796.3 L53.6,796.3 L53.6,796.3 L55.8,796.6 L57.8,797.7 L59.4,799.3 L60.4,801.4 L60.8,803.7 L60.5,806 L59.5,808.2 L57.9,809.8 L55.9,810.9 L53.7,811.3 L50.5,811.3 M66.5,796.2 L66.7,811.2 M76.6,796.1 L76.7,811.1 M66.6,803.7 L76.7,803.6 M91.1,796.9 L91.2,810.9 M91.1,796.9 L94.1,796.9 L94.1,796.9 L96.2,797.2 L98,798.2 L99.5,799.7 L100.5,801.7 L100.8,803.8 L100.5,806 L99.6,807.9 L98.2,809.5 L96.3,810.5 L94.3,810.9 L91.2,810.9 M106.4,810.8 L106.2,798.8 L110.9,798.7 L110.9,798.7 L112.3,799.1 L113.4,800.2 L113.8,801.7 L113.4,803.2 L112.4,804.3 L111,804.7 L106.3,804.8 M109.5,804.7 L114.4,810.7 M128.1,804.5 L127.8,806.8 L126.8,808.8 L125.3,810.1 L123.5,810.6 L121.7,810.1 L120.2,808.9 L119.1,806.9 L118.7,804.6 L119.1,802.3 L120.1,800.4 L121.6,799.1 L123.4,798.6 L125.1,799 L126.7,800.3 L127.7,802.2 L128.1,804.5 M132.8,810.5 L132.7,798.5 L137.1,798.4 L137.1,798.4 L138.5,798.8 L139.6,799.9 L140,801.4 L139.6,802.9 L138.6,804 L137.2,804.4 L132.8,804.5 M154,804.3 L153.7,806.6 L152.7,808.5 L151.2,809.8 L149.4,810.3 L147.6,809.9 L146.1,808.6 L145.1,806.7 L144.7,804.4 L145,802.1 L146,800.1 L147.5,798.8 L149.3,798.3 L151.1,798.8 L152.6,800 L153.6,802 L154,804.3 M158.6,798.2 L158.7,806.6 L158.7,806.6 L159,808 L159.9,809.1 L161.2,809.9 L162.8,810.2 L164.3,809.9 L165.6,809.1 L166.5,807.9 L166.8,806.5 L166.7,798.1 M171.3,798.1 L179.4,798 M175.4,798 L175.5,810" stroke-width="2.15" fill="none" />
<path d="M34.6,817.6 L36.3,815.5 L36.3,833 M43.6,820.5 L43,827.4 L49.9,827.3 M48.7,821.1 L48.7,833 M57.8,826.4 L56.4,826 L55.4,824.9 L55,823.4 L55.4,821.9 L56.4,820.8 L57.8,820.4 L59.1,820.8 L60.1,821.9 L60.5,823.4 L60.2,824.9 L59.2,826 L57.8,826.4 M57.8,826.4 L59.5,826.9 L60.7,828 L61.2,829.7 L60.7,831.3 L59.5,832.5 L57.8,832.9 L56.1,832.5 L54.9,831.3 L54.4,829.7 L54.9,828.1 L56.1,826.9 L57.8,826.4 M72,826.8 L77,832.9 M77,826.8 L72,832.9 M84.1,821 L85.4,819.4 L85.5,832.9 M90.5,822 L92.2,820 L94.6,819.3 L97,820.1 L97.8,822.6 L96.6,825.4 L90.6,832.8 L98.1,832.8 M103,832.8 L102.9,822.7 M102.9,825.6 L104.4,822.9 L106.1,822.6 L107.8,823.2 L108.7,825.5 L108.7,832.8 M108.7,825.5 L110.2,822.9 L111.9,822.6 L113.6,823.2 L114.5,825.5 L114.5,832.8 M119.7,832.8 L119.7,822.6 M119.7,825.5 L121.1,822.9 L122.9,822.6 L124.6,823.2 L125.5,825.5 L125.5,832.7 M125.5,825.5 L126.9,822.9 L128.7,822.6 L130.4,823.2 L131.3,825.5 L131.3,832.7 M148.7,823.6 L147.6,822.4 L145.8,822.2 L143.9,822.8 L143.1,824.5 L143.7,826.2 L146,827.2 L148.1,828.3 L148.9,830 L148.3,831.8 L146.2,832.7 L144.1,832.3 L142.9,831 M152.7,832.7 L152.7,822.2 L156.3,822.1 L156.3,822.1 L157.4,822.5 L158.2,823.5 L158.6,824.8 L158.3,826.1 L157.4,827 L156.3,827.4 L152.7,827.4 M162.4,832.6 L166.1,822.1 L169.9,832.6 M163.9,828.6 L168.3,828.6 M180.3,823.9 L179.3,822.8 L178.1,822.2 L176.7,822.2 L175.5,822.8 L174.5,824 L173.9,825.5 L173.6,827.3 L173.9,829.1 L174.5,830.7 L175.5,831.9 L176.8,832.5 L178.1,832.5 L179.3,831.9 L180.3,830.7 M184.2,822.1 L184.2,832.6 M188.2,832.6 L188.2,822.1 L194.9,832.5 L194.9,822 M205.3,823.9 L204.2,822.6 L202.8,822 L201.4,822.2 L200.1,823.2 L199.1,824.7 L198.7,826.6 L198.8,828.6 L199.4,830.4 L200.5,831.8 L201.9,832.5 L203.3,832.4 L204.6,831.5 L205.6,830 L206.1,828.2 L206.2,827.8 L202.9,827.8" stroke-width="2.15" fill="none" />
<path d="M308.8,825.8 L307.6,824.7 L306.1,824.1 L304.5,824.1 L303,824.7 L301.8,825.8 L301,827.3 L300.7,829 L301,830.7 L301.8,832.2 L303,833.3 L304.5,833.9 L306.1,833.9 L307.6,833.3 L308.8,832.2 M313.2,834 L317.7,824 L322.3,834 M315.1,830.2 L320.4,830.2 M334,825.4 L332.6,824.2 L330.4,824 L328.1,824.6 L327.1,826.2 L327.9,827.8 L330.7,828.8 L333.2,829.8 L334.2,831.5 L333.5,833.2 L330.9,834 L328.4,833.6 L326.9,832.4 M338.8,824 L346.7,824 M342.8,824 L342.8,834 M361.2,822 L360.4,828.6 L368.9,828.6 M367.4,822.6 L367.4,834 M374.4,826.5 L375.5,825.5 L375.5,834 M379.6,826 L381.8,825.5 L384.2,825.8 L385.2,827.2 L384.5,828.7 L382,829.5 L384.8,830.4 L385.6,832.1 L384.4,833.6 L382,834 L379.6,833.5 M395.6,829.8 L395.4,831.4 L394.7,832.8 L393.7,833.7 L392.5,834 L391.3,833.7 L390.3,832.8 L389.6,831.4 L389.3,829.8 L389.6,828.1 L390.3,826.7 L391.3,825.8 L392.5,825.5 L393.7,825.8 L394.7,826.7 L395.4,828.1 L395.6,829.8" stroke-width="2.15" fill="none" />
<path d="M305.2,844.1 L304.1,842.9 L302.8,842.3 L301.5,842.3 L300.2,842.9 L299.1,844.1 L298.4,845.7 L298.2,847.5 L298.4,849.2 L299.1,850.8 L300.2,852 L301.5,852.6 L302.8,852.6 L304.1,852 L305.2,850.8 M308.9,843.2 L308.9,852.7 M315.1,843.2 L315.1,852.7 M308.9,848 L315.1,848 M318.7,852.7 L322.2,843.2 L325.8,852.7 M320.1,849.1 L324.3,849.1 M329.6,843.2 L329.6,852.7 M333.4,852.7 L333.4,843.2 L339.8,852.7 L339.8,843.2 M348.9,844.5 L347.8,843.4 L346.1,843.2 L344.3,843.8 L343.5,845.3 L344.1,846.8 L346.3,847.8 L348.3,848.7 L349.1,850.3 L348.5,851.9 L346.5,852.7 L344.5,852.3 L343.3,851.2 M352.7,843.2 L358.8,843.2 M355.7,843.2 L355.7,852.7 M362.4,852.7 L366,843.2 L369.5,852.7 M363.9,849.1 L368,849.1 M373.1,843.2 L376.2,848 L379.2,843.2 M376.2,848 L376.2,852.7 M390.3,844.2 L393.1,848.5 L395.8,844.2 M393.1,848.5 L393.1,852.7 M405.4,848.5 L405.2,850.1 L404.5,851.5 L403.4,852.4 L402.2,852.7 L401,852.4 L400,851.5 L399.3,850.1 L399,848.5 L399.3,846.8 L400,845.4 L401,844.5 L402.2,844.2 L403.4,844.5 L404.5,845.4 L405.2,846.8 L405.4,848.5 M408.6,844.2 L408.6,852.7 M413.7,844.2 L408.6,849.3 M410.2,848 L413.9,852.7 M422,844.2 L417.1,844.2 L417.1,852.7 L422,852.7 M417.1,848.5 L421.1,848.5" stroke-width="2.15" fill="none" />
<path d="M295,858 L303.2,858 M299.1,858 L299.1,869 M314.2,865.4 L314,866.8 L313.3,867.9 L312.3,868.7 L311.2,868.9 L310,868.7 L309,867.9 L308.3,866.8 L308.1,865.4 L308.3,864.1 L309,863 L310,862.2 L311.1,861.9 L312.3,862.2 L313.3,862.9 L314,864.1 L314.2,865.4 M328.1,861.5 L327,860.5 L325.7,859.9 L324.4,859.9 L323.1,860.5 L322,861.5 L321.4,862.8 L321.1,864.4 L321.4,865.9 L322.1,867.3 L323.1,868.3 L324.4,868.8 L325.8,868.8 L327.1,868.3 L328.1,867.2 M331.8,859.8 L331.9,868.8 L337.3,868.8 M347.2,859.8 L341.2,859.8 L341.3,868.8 L347.3,868.8 M341.2,864.3 L346.2,864.3 M351.2,868.7 L355.1,859.7 L359.1,868.7 M352.8,865.3 L357.4,865.3 M363,868.7 L363,859.7 L366.9,859.7 L366.9,859.7 L368.1,860 L369,860.8 L369.3,861.9 L369,863 L368.1,863.9 L366.9,864.2 L363,864.2 M365.7,864.2 L369.8,868.7 M382.2,861.6 L383.5,860.2 L385.4,859.8 L387.3,860.3 L388,861.9 L387,863.7 L382.3,868.6 L388.2,868.6 M392.3,868.4 L392.4,868.6 M400,859.9 L398,859.5 L395.8,860.6 L394.7,863.6 L395,866.6 L396.5,868.3 L398.3,868.5 L400.2,867.6 L400.9,866 L400,864.5 L398,864 L395.8,864.6 L395,865.9 M405,859.5 L405,861.5 M406.7,859.5 L406.8,861.5" stroke-width="2.15" fill="none" />
<path d="M297.5,873.5 L305.8,873.5 M301.7,873.5 L301.7,883.5 M311,873.5 L311,883.5 M316.1,883.5 L316.1,873.5 L321,873.5 L321,873.5 L322.4,873.8 L323.5,874.8 L323.9,876 L323.5,877.2 L322.4,878.2 L321,878.5 L316.1,878.5 M319.5,878.5 L324.5,883.5 M336.4,873.5 L329,873.5 L329,883.5 L336.4,883.5 M329,878.5 L335.1,878.5 M348.7,874.9 L347.3,873.7 L345,873.5 L342.6,874.1 L341.5,875.7 L342.3,877.3 L345.2,878.3 L347.9,879.3 L349,881 L348.2,882.7 L345.5,883.5 L342.8,883.1 L341.2,881.9" stroke-width="2.15" fill="none" />
<path d="M300,889 L297.5,893.5 L296.9,897.3 L297.8,901 L300.1,904.7 M305.8,903.9 L305.7,892.4 M305.7,892.4 L310.3,892.4 L310.3,892.4 L311.6,892.8 L312.5,893.8 L312.8,895.1 L312.5,896.5 L311.6,897.5 L310.4,897.9 L305.8,898 M305.8,898 L310.6,897.9 L310.6,897.9 L312,898.3 L313,899.4 L313.3,900.9 L313,902.4 L312,903.5 L310.7,903.9 L305.8,903.9 M324.3,899.3 L324.1,901 L323.3,902.5 L322.2,903.5 L320.9,903.8 L319.6,903.5 L318.5,902.5 L317.7,901.1 L317.5,899.4 L317.7,897.6 L318.4,896.2 L319.5,895.2 L320.9,894.8 L322.2,895.2 L323.3,896.1 L324,897.6 L324.3,899.3 M334.6,899.2 L334.4,901 L333.6,902.4 L332.5,903.4 L331.2,903.8 L329.9,903.4 L328.8,902.5 L328,901 L327.7,899.3 L328,897.6 L328.7,896.1 L329.8,895.1 L331.1,894.8 L332.5,895.1 L333.6,896.1 L334.3,897.5 L334.6,899.2 M343.4,895.9 L342.3,894.9 L340.7,894.7 L339,895.2 L338.2,896.7 L338.8,898.1 L340.9,899 L342.8,899.9 L343.6,901.4 L343,902.9 L341.1,903.7 L339.2,903.3 L338.1,902.3 M347,894.6 L352.9,894.6 M349.9,894.6 L350,903.6 M366.6,896.1 L365.7,895.1 L364.6,894.6 L363.4,894.6 L362.3,895.1 L361.4,896.1 L360.8,897.5 L360.6,899 L360.8,900.6 L361.4,901.9 L362.3,902.9 L363.4,903.5 L364.6,903.4 L365.7,902.9 L366.7,901.9 M369.9,894.5 L369.9,903.5 M375.8,894.4 L375.9,903.4 M369.9,899 L375.8,898.9 M379.3,903.4 L382.7,894.4 L386.1,903.4 M380.7,900 L384.7,900 M389.8,894.3 L389.8,903.3 M393.5,903.3 L393.4,894.3 L399.6,903.3 L399.5,894.3 M403,894.2 L403,903.2 L407.8,903.2 M411.4,894.2 L411.5,903.2 M415.1,903.2 L415.1,894.2 L421.2,903.1 L421.2,894.1 M429.8,894 L424.6,894.1 L424.7,903.1 L429.9,903 M424.6,898.6 L428.9,898.6 M433.2,888 L435.8,892.5 L436.5,896.3 L435.5,900 L433.3,903.8" stroke-width="2.15" fill="none" />
<path d="M515,842.1 L514.5,828.1 M514.5,828.1 L521.1,827.9 L521.1,827.9 L522.8,828.3 L524.1,829.4 L524.7,831.1 L524.2,832.8 L523,834.1 L521.3,834.6 L514.7,834.8 M514.7,834.8 L521.7,834.6 L521.7,834.6 L523.6,835 L525,836.3 L525.6,838.1 L525.2,839.9 L523.8,841.3 L521.9,841.8 L515,842.1 M540.9,829.1 L538.9,827.5 L536,827.3 L532.9,828.3 L531.6,830.6 L532.7,832.8 L536.6,834 L540.1,835.3 L541.5,837.6 L540.6,840 L537.2,841.3 L533.7,840.9 L531.5,839.3 M547.9,840.9 L553.6,826.7 L560.4,840.4 M550.3,835.5 L557.6,835.2 M575,826.9 L585,826.5 M580,826.7 L580.5,839.7 M590.9,829.8 L591.3,839.3 M598.2,829.5 L598.5,839 M591.1,834.6 L598.4,834.3 M602.8,838.9 L602.4,829.4 L606.7,829.2 L606.7,829.2 L608,829.5 L608.9,830.3 L609.3,831.5 L609,832.7 L608.1,833.6 L606.8,834 L602.6,834.1 M605.5,834 L610.1,838.6 M620.2,828.7 L613.7,829 L614.1,838.5 L620.5,838.2 M613.9,833.7 L619.2,833.5 M624.7,838.1 L628.6,828.4 L633.2,837.8 M626.4,834.4 L631.3,834.2 M637.1,828.1 L637.4,837.6 M637.1,828.1 L639.4,828 L639.4,828 L641,828.2 L642.5,828.8 L643.7,829.8 L644.5,831.1 L644.8,832.6 L644.6,834.1 L643.9,835.4 L642.8,836.5 L641.4,837.2 L639.8,837.5 L637.4,837.6 M655.3,827.4 L648.8,827.7 L649.2,837.2 L655.7,836.9 M649,832.4 L654.3,832.2 M659.5,827.3 L659.9,836.8 M659.5,827.3 L661.9,827.2 L661.9,827.2 L663.5,827.4 L665,828 L666.1,829 L666.9,830.3 L667.2,831.8 L667,833.2 L666.3,834.6 L665.2,835.7 L663.8,836.4 L662.2,836.7 L659.9,836.8" stroke-width="2.15" fill="none" />
<path d="M515,862.7 L514.4,850.2 M514.4,850.2 L519.2,850 L519.2,850 L520.5,850.3 L521.5,851.4 L521.9,852.9 L521.6,854.4 L520.8,855.5 L519.5,856 L514.7,856.2 M514.7,856.2 L519.8,856 L519.8,856 L521.2,856.3 L522.3,857.5 L522.7,859.1 L522.4,860.7 L521.5,861.9 L520.1,862.5 L515,862.7 M533.2,857.6 L533.1,859.2 L532.4,860.6 L531.5,861.6 L530.3,862 L529.1,861.7 L528.1,860.8 L527.3,859.5 L527,857.9 L527.2,856.2 L527.8,854.8 L528.7,853.8 L529.9,853.5 L531.1,853.7 L532.2,854.6 L532.9,855.9 L533.2,857.6 M536.1,853.2 L541.5,852.9 M538.8,853 L539.2,861.5 M544.6,852.7 L549.9,852.5 M547.3,852.6 L547.7,861.1 M559.5,856.3 L559.3,857.9 L558.7,859.3 L557.8,860.3 L556.6,860.7 L555.4,860.4 L554.3,859.5 L553.6,858.2 L553.3,856.6 L553.4,854.9 L554,853.5 L555,852.6 L556.2,852.2 L557.4,852.4 L558.4,853.3 L559.2,854.7 L559.5,856.3 M562.8,860.4 L562.4,851.9 L566.1,857.2 L569.3,851.5 L569.7,860 M580.1,859.5 L579.6,848.5 M579.6,848.5 L583.9,848.3 L583.9,848.3 L585,848.6 L585.9,849.6 L586.2,850.9 L586,852.2 L585.2,853.2 L584.1,853.6 L579.9,853.8 M579.9,853.8 L584.3,853.6 L584.3,853.6 L585.6,853.9 L586.5,854.9 L586.9,856.3 L586.7,857.8 L585.8,858.9 L584.6,859.3 L580.1,859.5 M590.9,859 L590.3,848 L594.4,847.8 L594.4,847.8 L595.6,848.1 L596.6,849.1 L597,850.4 L596.7,851.8 L595.9,852.9 L594.6,853.3 L590.6,853.5 M593.4,853.4 L597.8,858.7 M601.6,858.5 L605.1,847.3 L609.7,858.1 M603.1,854.2 L607.8,854 M620.4,848.5 L619.2,847.3 L617.9,846.8 L616.5,846.8 L615.2,847.5 L614.2,848.8 L613.6,850.5 L613.4,852.4 L613.8,854.3 L614.5,855.9 L615.7,857.1 L617,857.6 L618.4,857.6 L619.7,856.9 L620.7,855.6 M624.1,846.4 L624.7,857.4 M630.6,846.1 L624.4,853 M626.4,851.2 L631.4,857 M641,845.5 L634.9,845.8 L635.4,856.8 L641.5,856.5 M635.1,851.3 L640.2,851.1 M645,845.4 L652,845 M648.5,845.2 L649,856.2" stroke-width="2.15" fill="none" />
</g>
<g font-family="Liberation Sans, sans-serif" fill="#111">

</g>
</svg>
</body></html>
